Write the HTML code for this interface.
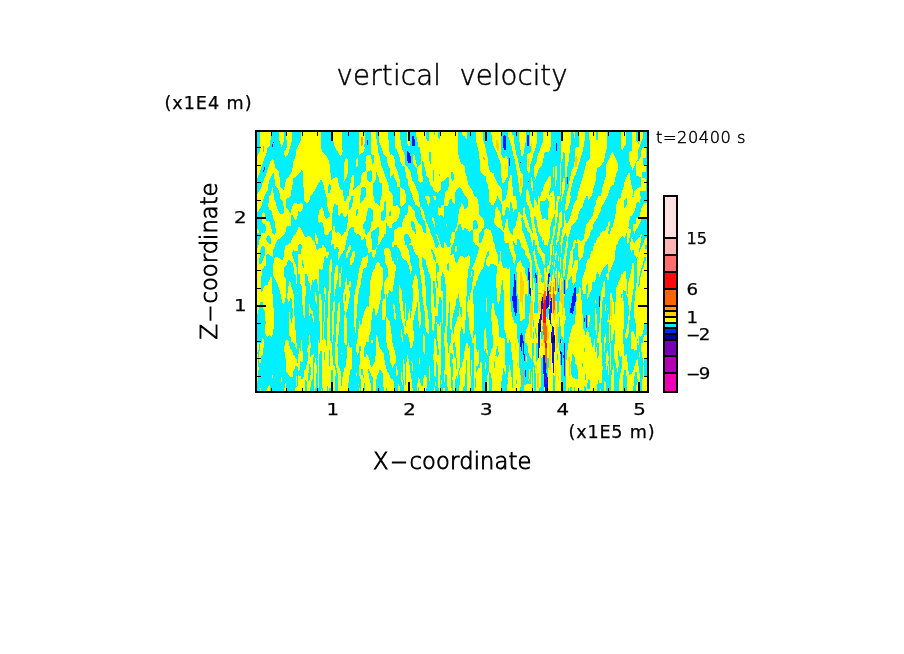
<!DOCTYPE html>
<html lang="en"><head><meta charset="utf-8"><title>vertical velocity</title>
<style>
html,body{margin:0;padding:0;background:#fff;}
body{width:904px;height:654px;overflow:hidden;}
svg{display:block;}
text{font-family:"DejaVu Sans","Liberation Sans",sans-serif;fill:#000;}
.thin{font-weight:200;stroke:#000;stroke-width:0.5px;}
.med{font-weight:200;stroke:#000;stroke-width:0.9px;}
.lab{font-family:"DejaVu Sans","Liberation Sans",sans-serif;stroke:#000;stroke-width:0.25px;}
</style></head><body>
<svg width="904" height="654" viewBox="0 0 904 654">
<rect x="0" y="0" width="904" height="654" fill="#fff"/>
<defs>
<clipPath id="c0"><rect x="255" y="130" width="98" height="66"/></clipPath>
<clipPath id="c1"><rect x="353" y="130" width="67" height="17"/></clipPath>
<clipPath id="c2"><rect x="353" y="147" width="67" height="49"/></clipPath>
<clipPath id="c3"><rect x="420" y="130" width="31" height="66"/></clipPath>
<clipPath id="c4"><rect x="451" y="130" width="98" height="66"/></clipPath>
<clipPath id="c5"><rect x="549" y="130" width="98" height="66"/></clipPath>
<clipPath id="c6"><rect x="257" y="196" width="65" height="49"/></clipPath>
<clipPath id="c7"><rect x="322" y="196" width="65" height="49"/></clipPath>
<clipPath id="c8"><rect x="387" y="196" width="65" height="49"/></clipPath>
<clipPath id="c9"><rect x="452" y="196" width="65" height="49"/></clipPath>
<clipPath id="c10"><rect x="517" y="196" width="65" height="49"/></clipPath>
<clipPath id="c11"><rect x="582" y="196" width="65" height="49"/></clipPath>
<clipPath id="c12"><rect x="257" y="245" width="65" height="49"/></clipPath>
<clipPath id="c13"><rect x="322" y="245" width="65" height="49"/></clipPath>
<clipPath id="c14"><rect x="387" y="245" width="65" height="49"/></clipPath>
<clipPath id="c15"><rect x="452" y="245" width="65" height="49"/></clipPath>
<clipPath id="c16"><rect x="517" y="245" width="65" height="49"/></clipPath>
<clipPath id="c17"><rect x="537" y="262" width="45" height="32"/></clipPath>
<clipPath id="c18"><rect x="582" y="245" width="65" height="49"/></clipPath>
<clipPath id="c19"><rect x="257" y="294" width="65" height="49"/></clipPath>
<clipPath id="c20"><rect x="322" y="294" width="65" height="49"/></clipPath>
<clipPath id="c21"><rect x="387" y="294" width="65" height="49"/></clipPath>
<clipPath id="c22"><rect x="452" y="294" width="65" height="49"/></clipPath>
<clipPath id="c23"><rect x="517" y="294" width="65" height="49"/></clipPath>
<clipPath id="c24"><rect x="582" y="294" width="65" height="49"/></clipPath>
<clipPath id="c25"><rect x="257" y="343" width="65" height="49"/></clipPath>
<clipPath id="c26"><rect x="322" y="343" width="65" height="49"/></clipPath>
<clipPath id="c27"><rect x="387" y="343" width="65" height="49"/></clipPath>
<clipPath id="c28"><rect x="452" y="343" width="65" height="49"/></clipPath>
<clipPath id="c29"><rect x="517" y="343" width="65" height="49"/></clipPath>
<clipPath id="c30"><rect x="582" y="343" width="65" height="49"/></clipPath>
</defs>
<rect x="256" y="131" width="392" height="261" fill="#00f0ff"/>
<g shape-rendering="crispEdges" clip-path="url(#c0)">
<rect x="255" y="130" width="98" height="66" fill="#ffff00"/>
<polygon fill="#00f0ff" points="257,132 260,132 260,151.1 258.8,153.3 257.7,155.5 257,156.6"/>
<polygon fill="#00f0ff" points="271,132 279.1,132 279.1,140.3 280.5,144.1 281.6,147.1 283,143.6 284.1,139.8 284.1,132 286.4,132 286.4,139.8 287,143 287,147.9 284.1,151.1 284.1,154.4 285.7,156.9 288.1,153.8 289.5,149.5 290.8,144.6 292.1,139.8 292.1,132 301.1,132 301.1,139.8 298.9,144.6 296.4,149.5 296,154.4 294.6,159.3 292.9,162 292.9,165.8 291.5,172.3 287.8,178.2 285.9,180.1 285.4,183.1 284.3,188.5 283.7,189.8 279.9,186.4 279.3,172.3 274.8,167.1 274.3,162 272.9,158.2 270.1,162 267.1,171.6 265.1,176.6 262.6,183.1 261.1,188.2 257,194.3 257,179.1 258,176.6 260.1,171.6 261.1,168.5 263,162 265,156.9 266.5,153.4 267.5,148.4 270,145 270,140.4 270.9,139.4"/>
<polygon fill="#00f0ff" points="273.2,173.1 274.2,173.6 274.9,185.7 279.2,190.3 279.7,194.7 279.9,196 273.9,196 272.7,186.7 270.1,196 264.5,196 265.1,194.7 267.7,190.3 268.7,183.2 270.2,178.1"/>
<polygon fill="#00f0ff" points="320.9,132 333.3,132 333.3,140.8 334.7,146.8 337.9,151.7 339.6,154.9 340.6,156.6 341.7,154.9 342.6,151.7 342.1,143 342.1,132 353,132 353,174.4 350.9,177.7 350.4,184.2 349.3,190.7 349.1,196 343.4,196 342.8,190.2 340.6,189.1 339,186.4 337.9,178.2 335.8,176.8 331.4,179.7 330.9,176.6 329.8,165.8 328.7,160.4 326.5,155.5 322.2,152.2 320.9,146.3"/>
<polygon fill="#ffff00" points="346.6,158 348,159.3 348.2,171.2 347.1,175.5 345.5,178.8 343.9,181.8 343.4,182 343.9,178.8 344.4,173.4 343.9,167.9 344.4,162.5 345.5,159.3"/>
<polygon fill="#00f0ff" points="329.3,183.7 330.9,185.3 330.9,188.5 329.8,192.9 328.2,192.9 328.2,187.5"/>
<polygon fill="#00f0ff" points="301.6,170.1 302.7,171.2 302.7,182 303.8,188.5 304.3,196 290.8,196 291.3,190.7 292.4,186.4 292.9,178.8 295.1,177.2 298.4,174.4"/>
<polygon fill="#00f0ff" points="320.6,180.1 321.7,180.4 323.3,184.2 324.4,189.6 325.5,194 326,196 310.8,196 312.5,194 315.7,189.1 317.9,184.2"/>
<polygon fill="#0014ff" points="272.7,142.1 273.6,142.1 273.6,143.1 272.7,143.1"/>
<polygon fill="#0014ff" points="271.8,144.1 272.9,144.1 272.9,146.8 271.8,146.8"/>
<polygon fill="#0014ff" points="263.9,167.2 265,167.2 265,169.6 263.9,169.6"/>
<polygon fill="#0014ff" points="263,169.6 264.1,169.6 264.1,171.7 263,171.7"/>
<polygon fill="#ffa000" points="263,146.3 263.7,146.3 263.7,151.7 263,151.7"/>
</g>
<g shape-rendering="crispEdges" clip-path="url(#c1)">
<rect x="353" y="130" width="67" height="17" fill="#00f0ff"/>
<polygon fill="#ffff00" points="359,132 364.4,132 364.9,136.5 364.4,147 359,147"/>
<polygon fill="#ffa000" points="361.1,137 362.8,137.6 362.8,144.1 361.7,146.3 361.1,146.3"/>
<polygon fill="#0014ff" points="366.9,139.8 368.2,139.8 368.2,144.6 366.9,144.6"/>
<polygon fill="#ffff00" points="370.9,132 376.3,132 376.3,137.6 377.4,143 377.7,147 371,147"/>
<polygon fill="#ffff00" points="379,132 387.7,132 387.9,136.5 388.8,141.9 389,147 381.1,147 380.1,144.1 379,141.9"/>
<polygon fill="#ffff00" points="394.7,132 399.6,132 400.2,138.7 401.2,144.1 401.7,147 395,147 394.7,140.8"/>
<polygon fill="#ffff00" points="407.2,132 410.1,132 410.1,145.7 408.8,146.3 407.2,143"/>
<polygon fill="#0014ff" points="411.5,136 413.7,136.5 415,140.8 415,145.7 412.1,145.7 411.5,140.8"/>
<polygon fill="#ffff00" points="415.9,132 420,132 420,147 418.6,147 418,144.1 417,140.8"/>
</g>
<g shape-rendering="crispEdges" clip-path="url(#c2)">
<rect x="353" y="147" width="67" height="49" fill="#00f0ff"/>
<polygon fill="#ffff00" points="371,147 377.7,147 378.1,152.2 379.6,156 381.1,165 383,169.5 384.1,173.2 385.6,177 387.5,181.5 389,186 389,190.5 391.2,192.7 393.1,196 381.9,196 381.9,183.7 378.9,182.2 378.5,177 377,174 376.6,172.1 375.9,172.5 375.5,180 373.2,183.7 373.2,196 366.1,196 365.7,189 365,187.1 362,187.1 360.9,188.6 360.9,195 360.1,196 353,196 353,190.5 354.5,189 356,187.5 360.1,184.1 360.9,181.5 361.2,175.9 362.4,172.9 365,171.7 366.1,171 366.1,163.1 365,162.7 365,162 366.1,161.6 366.1,156 366.9,155.2 369.1,154.9 370.2,155.6 371,154.9 371.4,158.2 372.1,165 373.6,163.1 373.6,155.2 371,154.1"/>
<polygon fill="#00f0ff" points="369.1,171 370.6,170.2 371.7,171.7 371.7,180.7 370.6,181.8 369.1,181.8 367.2,179.2 367.2,172.5"/>
<polygon fill="#ffff00" points="359,147 365,147 364.2,150.7 362.7,152.6 360.1,154.5 359,154.9"/>
<polygon fill="#ffff00" points="356.7,158.2 357.9,158.2 357.9,165.7 356.7,166.9 356,166.9 356,161.2"/>
<polygon fill="#ffff00" points="353,175.1 353.9,175.1 353.9,186.7 353,187.1"/>
<polygon fill="#ffff00" points="381.1,147 389,147 389.3,151.5 390.5,154.5 392,154.1 393.5,156 394.6,159.7 395.3,166.5 396.8,169.5 398,171.7 398.3,174.7 399.8,180 399.8,187.1 397.2,186.7 396.5,182.2 394.2,177 393.8,174.4 392,174.7 391.2,177.7 390.1,177.7 389.7,168.7 387.5,163.1 387.1,157.5 386,156.4 383,153"/>
<polygon fill="#ffff00" points="399.8,187.1 401.7,187.8 404.7,190.5 405.5,193.5 406.2,196 400.2,196 399.8,192"/>
<polygon fill="#ffff00" points="395,147 401.7,147 402.5,150 404.7,155.2 405.5,165 409.2,169.5 410.7,172.5 412.2,180 415.2,185.2 416.7,189 418.2,193.5 419,196 413,196 412.2,194.2 410.3,190.5 408.1,184.5 407.7,179.2 406.2,177.7 405.5,171.7 404.7,167.2 402.5,165.7 400.2,161.2 399.5,156.7 398,153 396.5,149.2"/>
<polygon fill="#ffff00" points="413,154.1 414.1,154.1 415.2,156.7 415.6,161.2 417.1,165.7 417.5,166.9 420,165 420,183 418.2,180.7 417.1,169.5 416.7,168 414.8,165.7 413,163.5"/>
<polygon fill="#0014ff" points="407,151.1 408.5,151.5 410,154.5 411.1,158.2 411.1,163.1 408.5,163.1 407,160.5"/>
</g>
<g shape-rendering="crispEdges" clip-path="url(#c3)">
<rect x="420" y="130" width="31" height="66" fill="#ffff00"/>
<polygon fill="#00f0ff" points="425.6,132 428.9,132 428.9,141.4 427.3,141.4 425.8,136.5"/>
<polygon fill="#00f0ff" points="433.8,132 434.8,132 434.8,135.4 433.8,135.4"/>
<polygon fill="#00f0ff" points="438.1,132 440.3,132 440.3,138.7 438.6,138.7"/>
<polygon fill="#00f0ff" points="429.2,152.2 430.8,152.2 431.1,163.6 429.8,163.6 429.2,158.2"/>
<polygon fill="#00f0ff" points="433,170.1 434.3,170.1 434.3,181 433.4,181"/>
<polygon fill="#00f0ff" points="438.6,173.9 439.9,173.9 439.9,176.1 438.6,176.1"/>
<polygon fill="#00f0ff" points="420,147 420.8,157.1 421.3,161.4 420,165"/>
<polygon fill="#00f0ff" points="422.4,161.4 423.5,162.5 425.6,171.2 426.7,176.6 428.9,178.8 430,184.2 432.7,187.5 433.8,190.7 437,192.3 438.6,196 420,196 420,183 422.4,182 423.5,179.9 421.8,173.4 421.8,162"/>
<polygon fill="#00f0ff" points="447.9,176.1 448.9,177.7 448.9,186.4 447.3,190.7 445.1,192.3 444.6,196 437.6,196 438.1,191.8 440.8,190.2 441.4,182 445.1,179.9"/>
</g>
<g shape-rendering="crispEdges" clip-path="url(#c4)">
<rect x="451" y="130" width="98" height="66" fill="#00f0ff"/>
<polygon fill="#ffff00" points="451,132 458,132 458,151.7 459.1,158.2 461.3,163.6 464.6,165.8 465.6,173.4 467.3,177.7 467.8,184.2 471.1,188.5 473.2,191.8 473.8,196 451,196"/>
<polygon fill="#00f0ff" points="451,172.3 452.6,172.3 453.7,174.4 453.7,179.9 452.6,181 451,178.8"/>
<polygon fill="#00f0ff" points="459.7,186.9 461.8,189.1 465.1,196 454.8,196 455.3,191.8 458,188.5"/>
<polygon fill="#ffff00" points="461.8,132 467.3,132 467.3,138.7 465.6,138.7 464.6,136.5 462.4,134.9"/>
<polygon fill="#ffff00" points="475.9,132 483,132 483.5,140.8 485.1,145.2 486.2,151.7 487.9,158.2 488.4,165.8 490,172.3 493.8,172.8 494.4,176.6 496.5,181 498.7,185.8 501.4,186.9 502,196 488.9,196 488.4,186.4 486.2,181 485.7,176.6 482.4,173.9 480.3,171.2 479.7,160.4 478.6,151.7 476.5,143"/>
<polygon fill="#ffa000" points="483,157.1 484.1,157.1 485.1,159.3 485.1,160.6 484.1,160.4"/>
<polygon fill="#ffff00" points="491.1,132 501.4,132 501.4,136.5 500.9,140.8 500.9,151.7 502,157.1 504.1,158.2 506.3,155.5 507.4,156.6 507.9,165.8 507.9,176.6 505.2,179.9 504.1,183.7 502.5,183.1 501.4,177.7 501.4,165.8 498.7,158.2 496.5,151.7 493.8,147.3 492.2,140.8"/>
<polygon fill="#ffd200" points="496,140.3 498.2,140.3 498.7,144.1 498.7,150.6 497.1,150.6 496,145.2"/>
<polygon fill="#ffd200" points="504.9,164.1 505.7,164.1 505.7,169 504.9,169"/>
<polygon fill="#0014ff" points="503,136 504.7,134.9 506.1,136.5 506.3,149.5 504.7,150.6 503,147.3"/>
<polygon fill="#0014ff" points="509,158.2 510.1,158.2 510.1,165.8 509,165.8"/>
<polygon fill="#ffff00" points="507.9,132 512.2,132 512.2,135.4 513.9,135.4 513.9,140.8 515,146.3 516,153.8 518.2,159.3 518.8,165.8 520.4,171.2 522.5,174.4 523.1,181 522.5,187.5 521.5,192.9 520.9,196 520.4,196 519.8,194 518.8,188.5 518.2,177.7 517.1,173.4 516,167.9 515,160.4 513.3,154.9 511.7,146.3 510.1,141.9 508.5,136.5"/>
<polygon fill="#ffd200" points="519.8,177.7 521.5,177.7 522,182 521.5,186.4 520.2,186.4"/>
<polygon fill="#ffff00" points="518.8,132 525.8,132 525.8,140.8 524.7,147.3 523.6,153.8 522.5,156 521.5,155.5 520.4,149.5 519.3,140.8"/>
<polygon fill="#ffff00" points="530.1,132 536.6,132 536.6,144.1 535,149.5 532.8,154.9 532.3,160.4 530.7,160.9 530.1,171.2 529.1,172.8 528.5,172.8 527.4,171.2 527.4,154.4 530.7,151.7"/>
<polygon fill="#ffd200" points="531,143 531.8,143 531.8,152.8 531,152.8"/>
<polygon fill="#ffd200" points="528,158.7 528.8,158.7 528.8,166.9 528,166.9"/>
<polygon fill="#0014ff" points="526.9,135.4 528.5,135.4 529.1,138.7 529.1,145.2 527.4,146.3 526.9,143"/>
<polygon fill="#ffff00" points="543.1,132 549,132 549,151.7 545.9,151.7 544.2,152.8 543.1,161.4 541,166.9 538.8,169 537.2,173.4 535.6,178.8 533.9,175.5 534.5,165.8 536.6,161.4 537.7,154.9 539.9,150.6 541,146.3 543.1,141.9"/>
<polygon fill="#ffff00" points="549,176.6 546.4,181 544.2,184.2 542.6,190.7 541,192.9 541,196 549,196"/>
<polygon fill="#ffff00" points="510.6,175 511.7,175.5 512.2,182 512.8,190.7 513.3,196 506.3,196 507.4,190.7 508.5,181 510.1,175.5"/>
<polygon fill="#ffff00" points="527.4,189.1 529.1,191.8 529.6,196 525.8,196 526.3,190.7"/>
<polygon fill="#ffff00" points="531,177.2 532.1,177.2 532.8,184.2 532.8,190.7 531.8,190.7 531.2,184.2"/>
<polygon fill="#0014ff" points="519.8,161.8 520.9,161.8 520.9,162.8 519.8,162.8"/>
<polygon fill="#0014ff" points="527.8,180.7 528.8,180.7 528.8,181.8 527.8,181.8"/>
</g>
<g shape-rendering="crispEdges" clip-path="url(#c5)">
<rect x="549" y="130" width="98" height="66" fill="#00f0ff"/>
<polygon fill="#ffff00" points="549,132 551.2,132 551.2,146.3 550.1,147.3 550.1,150.6 549,150.6"/>
<polygon fill="#ffff00" points="563.1,132 571.2,132 571.2,140.8 569.6,151.7 568.5,162.5 567.4,166.9 566.9,176.6 565.3,176.6 564.7,171.2 565.3,162.5 564.7,152.8 563.1,152.2 562.6,158.2 561.5,162.5 560.6,165.8 560.6,195 559.6,195 559.6,165.8 560.9,161.4 560.9,140.8"/>
<polygon fill="#ffff00" points="573.4,132 575,132 575,137.6 573.9,137.6"/>
<polygon fill="#ffff00" points="579.4,132 584.8,132 584.8,138.7 583.7,146.3 582.6,151.7 580.4,158.2 579.4,162.5 577.7,167.9 576.1,173.4 573.9,177.7 572.3,184.2 570.7,190.7 570.1,196 566.9,196 567.4,191.8 569.1,186.4 569.6,179.9 570.7,175.5 571.8,170.1 573.4,167.9 574.5,162.5 575,154.9 575.6,147.3 579.4,146.3"/>
<polygon fill="#ffd200" points="575.6,156 577.4,156 577.7,161.4 576.6,166.9 575,166.9 575,161.4"/>
<polygon fill="#ffff00" points="589.1,132 595.6,132 595.8,139.8 597.6,139.8 597.8,132 607,132 607,146.3 605.4,153.8 603.7,161.4 601,165.8 596.7,168.5 596.2,176.6 595.1,183.1 593.4,188.5 592.4,194 591.8,196 577.7,196 578.3,191.8 579.9,186.4 581.5,181 583.1,175.5 584.8,169 586.4,162.5 590.2,158.2 589.7,143"/>
<polygon fill="#ffff00" points="612.4,152.2 614,154.4 616.2,159.3 617.8,163.6 617.8,170.1 616.2,173.4 615.1,179.9 614,184.2 610.8,186.4 609.2,190.7 607.5,196 601,196 602.1,188.5 604.3,181 605.9,175.5 606.5,163.6 609.2,159.3 610.8,153.8"/>
<polygon fill="#ffff00" points="621.1,132 626,132 626,144.1 623.8,147.3 622.2,150.1 621.1,148.4"/>
<polygon fill="#ffff00" points="631.9,132 636.3,132 636.3,140.8 637.9,143 638.4,144.1 640.1,140.8 640.1,132 643.3,132 643.3,136.5 641.7,140.8 640.1,145.2 638.4,149.5 637.9,159.3 635.7,162.5 634.1,166.9 632.5,169.6 630.8,165.8 629.2,161.4 629.2,151.7 631.9,150.6"/>
<polygon fill="#ffff00" points="642.2,148.4 646,148.4 646,158.2 643.3,158.2 643.3,164.7 646,164.7 646,171.7 642.2,172.3 642.2,177.7 646,178.8 646,190.7 640.1,190.7 640.1,196 633.6,196 634.1,191.8 636.8,188.5 641.1,186.4 641.1,177.7 637.9,175.5 635.7,176.6 635.7,162.5 639,160.4 640.6,157.1 641.1,151.7"/>
<polygon fill="#ffff00" points="628.7,172.3 629.8,173.4 630.3,178.8 631.9,186.4 633,190.7 633.6,196 621.1,196 621.6,191.8 623.8,186.4 624.9,179.9 627.1,175.5"/>
<polygon fill="#ffff00" points="549,176.1 551.2,176.1 551.2,186.4 549.5,190.7 549,190.7"/>
<polygon fill="#ffff00" points="552.8,166.9 554.4,166.9 554.4,173.4 553.6,177.7 552.8,173.4"/>
<polygon fill="#ffff00" points="555.5,165.8 557.1,165.8 557.1,173.4 556.4,181 555.5,186.4 555,181"/>
<polygon fill="#ffff00" points="551.2,191.8 554.4,190.2 553.9,196 549,196"/>
<polygon fill="#ffff00" points="563.1,177.7 565.3,177.7 565.3,186.4 564.2,191.8 562.6,196 561.5,196 562,186.4"/>
<polygon fill="#0014ff" points="555.8,143 556.9,143 556.9,150.6 555.8,150.6"/>
<polygon fill="#0014ff" points="566.9,177.2 568,177.2 568,183.7 566.9,183.7"/>
</g>
<g shape-rendering="crispEdges" clip-path="url(#c6)">
<rect x="257" y="196" width="65" height="49" fill="#00f0ff"/>
<polygon fill="#ffff00" points="257,196 264.1,196 263.7,198.2 262.2,202.7 261.9,205.7 260,208.4 258.5,210.6 257,212.1"/>
<polygon fill="#ffff00" points="269,196 274.2,196 274.2,199 275.4,201.2 276.1,205 277.2,208.7 279.1,211.7 280.2,214 282.8,214 284,212.1 284,208 282.8,204.2 282.8,201.2 281.7,200.5 280.2,198.6 279.9,196 290,196 289.2,197.5 287,198.6 285.8,199.4 285.8,207.6 287,208.7 288.5,210.2 290,212.5 291.1,212.9 291.1,210.2 292.2,207.2 293,203.9 294.1,203.1 296.7,203.1 298.2,204.6 300.1,203.1 302,203.1 303.1,204.6 303.1,208 302,210.6 300.5,212.1 298.2,211 297.8,214 297.1,218.5 295.6,220 293.7,218.1 293,215.1 291.1,215.1 291.1,225.6 287.7,226 285.8,227.1 285.8,230.8 284.7,233.5 281.7,236.5 279.5,238.7 277.2,240.2 276.5,242.5 275,245 259.2,245 259.2,241 260.7,238 261.1,233.5 264.5,233.1 266,229.7 266,227.5 264.9,224.5 262.6,223.7 261.9,221.8 261.9,214 263.4,212.1 264.9,213.6 265.2,217 266,220.7 268.6,221.1 270.1,223 271.2,227.5 272.4,232.7 274.6,235 275.7,232.7 275.7,229 275,226 274.6,221.5 273.5,219.2 272.4,214.7 272,212.1 270.9,210.2 269,209.5 268.2,205.7 268.2,203.1 269,202"/>
<polygon fill="#00f0ff" points="268.2,235 269.7,236.1 270.9,239.5 270.9,244 269.4,244 267.1,241 266,239.5 266.7,236.8"/>
<polygon fill="#ffff00" points="304.2,196 310.2,196 309.8,199 308.7,201.6 307.9,202.7 305.7,202.7 304.2,201.2"/>
<polygon fill="#ffff00" points="298.2,227.5 299.7,227.1 301.2,229.7 303.1,232.7 304.2,235 305.7,237.6 307.9,236.1 310.2,236.5 311.7,238.7 313.9,241 315.1,243.2 315.4,245 288.1,245 288.5,244 290.7,242.5 292.2,238.7 293,236.5 294.8,235 296.3,232.7 297.5,229.7"/>
<polygon fill="#00f0ff" points="299.3,244 300.8,244 300.8,245 299.3,245"/>
<polygon fill="#ffff00" points="322,206.9 320.7,208.4 319.2,211 318.8,214.7 318.1,216.2 318.1,221.5 319.6,223 322,221.5"/>
<polygon fill="#ffff00" points="315.4,233.1 316.2,234.2 317.3,237.2 318.1,241 317.7,244 316.6,244 315.4,241 315.1,236.5"/>
<polygon fill="#ffff00" points="257,229 258.1,229.3 258.9,230.8 258.5,232.7 257,233.1"/>
</g>
<g shape-rendering="crispEdges" clip-path="url(#c7)">
<rect x="322" y="196" width="65" height="49" fill="#ffff00"/>
<polygon fill="#00f0ff" points="322,196 326.1,196 326.9,198.2 327.2,207.2 328,208 328.4,211 329.1,211.7 329.9,214 329.9,216.6 328,217.4 326.5,218.9 325,217.4 324.2,214.7 323.5,211 322.7,208 322,208"/>
<polygon fill="#00f0ff" points="344.1,196 346.7,196 346.7,199 345.6,200.9 344.1,200.9"/>
<polygon fill="#00f0ff" points="351.2,196 353.8,196 353.1,197.5 352.7,202 352,205.7 350.8,208.7 349.7,209.9 349,208.7 349,202.7 350.1,201.2 350.8,199"/>
<polygon fill="#00f0ff" points="360.2,196 366.2,196 364.7,198.2 362.5,200.9 360.2,203.1"/>
<polygon fill="#00f0ff" points="374.1,196 381.2,196 380.8,199 380.1,200.5 380.1,205.7 378.9,205.7 377.4,203.9 375.2,202.4 374.1,200.5"/>
<polygon fill="#00f0ff" points="384.9,200.9 386.1,200.9 386.1,211 385.3,218.5 384.9,220 383.4,221.1 381.6,220 381.2,218.5 381.2,212.1 382.7,211 384.2,209.9 384.2,202.7"/>
<polygon fill="#00f0ff" points="334.4,203.9 335.9,204.2 338.1,205.4 338.1,214.4 339.6,215.9 341.1,212.9 343,213.2 343.4,215.9 344.9,217 346.4,216.2 347.1,214 347.8,214 347.8,223 347.1,223.7 346.7,227.8 346,231.2 344.1,232.7 342.6,235 341.5,236.1 340,233.5 338.5,232 336.6,232.7 335.1,231.2 334.7,226.3 333.2,226 332.9,229.7 331.7,230.1 331.7,214 332.9,213.2 333.2,207.2 334,206.5"/>
<polygon fill="#00f0ff" points="356.8,209.1 358,209.1 358,214 357.2,214.4 356.8,215.9 356.1,215.9 356.1,212.1"/>
<polygon fill="#00f0ff" points="368.5,208 370.7,208 372.9,210.2 372.9,220 372.2,221.1 371.1,223 370.7,227.5 370,228.6 369.6,230.8 367.7,233.1 366.2,235 365.1,233.5 364.7,229.3 363.2,229 363.2,224.8 364,222.2 365.5,221.1 366.2,217 367,215.5 367.3,211.7 368.1,210.6"/>
<polygon fill="#00f0ff" points="322,223 323.1,223.3 323.1,226 324.2,227.5 324.2,233.8 325.4,235 327.6,235 329.1,232.7 330.6,230.8 331.7,230.1 331.7,239.8 331,240.6 331,245 322,245"/>
<polygon fill="#00f0ff" points="352,227.1 353.8,227.5 354.2,231.2 355.3,233.1 356.5,234.6 358,233.8 359.5,235 361,236.8 361.3,239.5 362.8,239.8 364.7,236.8 365.1,239.1 366.2,240.2 366.2,245 346,245 346,241 347.1,239.5 347.5,235.7 348.2,232.7 349,229 350.5,227.5"/>
<polygon fill="#00f0ff" points="377.8,227.1 378.9,227.5 378.9,235.7 378.2,236.5 377.8,244 377.1,245 372.2,245 371.8,239.5 371.1,238.7 371.1,232 373.3,230.5 375.2,229.3 376.7,228.2"/>
<polygon fill="#00f0ff" points="386.1,223 387,223 387,245 379.3,245 379.7,243.2 381.2,241.7 381.9,239.1 383.4,236.8 384.6,234.2 385.7,233.5 385.7,226"/>
<polygon fill="#00f0ff" points="332.1,244 334,244 334,245 332.1,245"/>
</g>
<g shape-rendering="crispEdges" clip-path="url(#c8)">
<rect x="387" y="196" width="65" height="49" fill="#00f0ff"/>
<polygon fill="#ffff00" points="387,196 393,196 393,205.7 396,205.7 396.7,205 398.2,205.4 398.6,207.2 400.1,209.1 400.1,214 399,214.4 399,217 397.9,218.5 397.1,220.4 394.9,222.2 393,223.3 392.2,224.8 391.9,227.5 389.6,227.8 388.1,226 387,226"/>
<polygon fill="#00f0ff" points="390,211 391.1,211.4 391.1,215.9 389.2,215.9 388.9,213.2"/>
<polygon fill="#ffff00" points="400.1,196 406.1,196 406.1,202.7 405,203.5 403.9,205.4 402.4,205.7 401.2,206.9 400.1,205.7"/>
<polygon fill="#ffff00" points="412.1,196 419.2,196 419.2,202 420,202.7 420,206.9 418.5,206.9 417,205.4 415.1,204.6 414.7,202.7 413.6,200.5 412.8,197.5"/>
<polygon fill="#ffff00" points="425.2,196 429,196 430.1,198.2 430.1,202.7 429,203.5 428.6,205.7 427.8,205.7 427.5,203.5 426.7,200.5 425.6,198.2"/>
<polygon fill="#ffff00" points="433.1,196 436.1,196 436.1,199.7 434.2,199.7 433.8,197.9"/>
<polygon fill="#ffff00" points="445.1,196 452,196 452,199 449.6,199.4 449.2,203.5 448.1,204.2 448.1,205.7 444.3,206.1 443.9,216.6 442.8,216.6 442.1,215.9 440.9,215.1 439.8,215.9 438.7,214.7 437.9,214.4 437.9,207.2 439.1,206.9 439.4,208 440.6,208 440.9,205.7 442.4,205 443.9,204.6 444.3,199.4"/>
<polygon fill="#ffff00" points="408.4,205.4 409.5,205 411,206.5 412.1,208.7 413.2,209.9 414.7,211.4 415.1,215.9 415.8,218.5 417,219.2 417.3,221.1 418.5,223 420.3,224.8 421.5,226 422.2,228.2 423,229.7 423.3,232 424.5,232.7 426,232.7 426,225.2 425.2,224.5 424.8,221.5 423,219.2 422.2,217 421.1,214.4 420.7,210.2 420,209.1 420,207.6 421.5,206.9 422.2,208 423.3,209.9 424.1,213.2 425.2,217.7 426,221.5 427.5,223.7 428.2,226.7 429.3,228.2 430.1,232 431.2,234.2 432,236.5 433.1,238.7 433.8,241.7 435,243.2 435,245 408.7,245 409.5,244 411,243.2 411,239.5 409.9,238.7 409.5,236.5 408,234.2 405,234.2 403.9,235.7 403.9,240.2 405,241 405.4,245 392.2,245 392.2,242.5 393.7,241 394.1,230.8 395.2,229.3 396.7,229 397.9,227.1 402,226.7 402,222.2 403.1,221.5 403.5,218.9 405,217.7 405.4,215.1 406.9,214.7 407.2,213.2 408,212.5"/>
<polygon fill="#00f0ff" points="411.4,221.1 412.8,221.5 414,223 414.7,224.5 415.1,229 416.2,229.7 415.8,233.5 415.1,233.8 414.3,231.6 412.1,229.7 411.4,226"/>
<polygon fill="#ffff00" points="432,217 433.1,217.4 434.2,220 435,222.2 435,226.7 434.2,226.7 433.5,223.7 432.3,220.7"/>
<polygon fill="#ffff00" points="446,224.1 447.1,224.1 447.1,226 446,226"/>
<polygon fill="#ffff00" points="436.1,233.8 437.2,234.2 438.3,236.5 438.7,239.5 439.8,241 440.2,244 440.9,245 439.4,245 438.7,242.5 437.6,239.5 436.8,236.5 436.1,235"/>
<polygon fill="#ffff00" points="443.9,242.1 445.1,242.5 446.2,244 446.2,245 443.9,245"/>
<polygon fill="#ffff00" points="451.1,233.8 452,233.8 452,245 450.7,245 450.3,241 450.7,238"/>
</g>
<g shape-rendering="crispEdges" clip-path="url(#c9)">
<rect x="452" y="196" width="65" height="49" fill="#00f0ff"/>
<polygon fill="#ffff00" points="452,196 455,196 455,203.5 453.9,203.9 452.7,202 452,200.9"/>
<polygon fill="#ffff00" points="465.9,196 474.9,196 476.7,197.5 477.8,199.4 478.2,203.9 479,204.6 479,214.7 480.5,215.9 482,217.4 483.1,218.5 483.8,220.4 483.8,227.8 482.7,228.6 481.6,230.8 479.7,232.7 479,233.5 479,242.8 480.8,242.8 482,241 482.7,238.7 483.1,236.5 483.8,235 484.2,231.2 485,229 486.5,227.8 488,229 489.5,230.1 491,230.5 491.3,232.7 492.5,235.7 493.2,238.7 493.2,241.7 494.7,244 495.1,245 474.9,245 474.5,243.2 473.4,241.7 473,230.1 471.1,230.1 469.6,232 468.1,230.5 467,228.6 464.4,228.2 463.6,229.7 462.1,229.7 461.7,227.1 461,226.7 460.6,224.1 459.1,224.1 458,225.6 457.6,228.2 457.2,230.8 455.7,231.6 455,233.1 455,236.5 454.2,241 453.1,244 452.7,245 452,245 452,232 454.6,231.6 455.7,229 456.9,226 457.2,223.7 458,223 458,214.4 459.1,213.6 459.1,209.9 460.2,208.7 460.2,206.9 461,206.5 461,203.1 462.1,203.5 462.9,204.6 464,207.2 464.4,208.7 465.9,208.7 467.7,207.2 468.1,199.4 467,197.9"/>
<polygon fill="#00f0ff" points="473.4,220.7 474.5,220 476,220.4 477.1,221.8 477.1,224.1 478.2,224.5 478.2,227.5 476.7,228.6 474.5,229 473.4,229.7 473,222.2"/>
<polygon fill="#ffff00" points="489.1,196 497,196 497,198.2 495.8,200.9 494.7,202.7 494,204.6 491.3,205 490.6,203.1 489.5,201.6 489.1,199.7"/>
<polygon fill="#ffff00" points="498.1,196 517,196 517,209.1 514.9,209.1 514.2,211 513.8,212.1 513.1,211.4 512.7,208 511.9,207.2 511.6,203.5 510.4,202 510.1,204.2 510.4,210.2 509.3,210.6 508.9,208.4 507.8,206.9 506.3,207.2 505.6,209.9 504.8,214 503.7,216.2 502.9,215.5 502.2,214.4 501.8,204.2 501.1,203.5 500.7,201.6 498.8,199"/>
<polygon fill="#00f0ff" points="502.2,196 505.9,196 505.6,199 503.7,200.9 502.6,200.9 502,199.7"/>
<polygon fill="#00f0ff" points="515.7,196 517,196 517,200.1 515.7,199.4"/>
<polygon fill="#ffff00" points="496.6,206.9 497.7,207.2 498.5,209.5 500,212.1 501.1,213.2 501.1,219.6 502.2,220.7 502.2,225.6 503.3,227.5 503.3,229.7 504.4,229 504.8,225.2 505.2,223 505.9,222.2 505.9,219.2 507.8,219.2 508.2,220.7 508.2,227.5 508.9,229 510.1,232 511.6,234.2 512.7,235.7 513.1,229 513.8,228.2 514.9,228.2 514.9,226 516.1,225.2 516.1,221.1 517,221.1 517,245 514.9,245 514.6,243.2 514.2,241 513.4,241 513.1,242.8 513.4,245 509.3,245 508.9,242.8 507.8,242.5 506.7,243.2 505.2,242.5 504.4,241 504.1,233.5 503.3,232 501.8,230.8 500.7,229 499.2,227.5 497.7,227.5 496.2,226 495.1,224.1 494.3,223.3 494.3,218.1 495.1,217.4 495.1,209.9 496.2,208.7"/>
</g>
<g shape-rendering="crispEdges" clip-path="url(#c10)">
<rect x="517" y="196" width="65" height="49" fill="#ffff00"/>
<polygon fill="#00f0ff" points="517,196 526,196 526,201.6 527.1,202.7 527.5,205 528.6,206.1 529.4,208.7 530.1,209.9 530.1,216.2 530.9,217.4 530.9,222.2 532,224.5 532.4,228.2 532.7,232.7 532,232.7 531.2,229.7 530.1,228.2 529,226 528.6,223.3 527.9,220.7 527.1,218.5 526,216.2 525.2,212.5 524.9,207.2 524.1,207.2 523,208.7 523,217 521.9,215.5 521.1,214.4 520,213.2 519.6,212.1 518.1,212.1 517.7,214 517.7,217 517,217"/>
<polygon fill="#00f0ff" points="521.9,217 523,217.7 524.1,221.8 525.2,226 526.4,228.2 527.5,230.5 529.4,232.7 530.9,238 531.2,241 532.4,243.2 532.4,245 527.1,245 526.7,242.5 526,239.5 524.9,238 524.1,234.2 523,232 521.9,230.5 521.9,221.5 521.1,220.7 521.1,218.5"/>
<polygon fill="#00f0ff" points="517,238.7 518.9,239.1 520,241 520.7,243.2 520.7,245 517,245"/>
<polygon fill="#00f0ff" points="530.1,196 538,196 538,204.6 536.9,204.6 536.5,202 535.4,199.7 535,198.2 534.2,198.2 534.2,208.4 533.1,208.4 532,205.7 531.2,202.7 530.1,200.5"/>
<polygon fill="#00f0ff" points="538.7,196 539.5,196 539.5,198.2 538.7,198.2"/>
<polygon fill="#00f0ff" points="546.6,198.2 547.7,199.4 548.5,200.5 548.8,208 548.1,208.7 548.1,219.6 546.6,220 545.1,218.5 544,218.1 543.6,219.2 542.5,218.9 542.1,216.2 541,214 541,212.1 540.2,211 539.9,201.2 541,200.5 542.5,200.9 544.7,200.9 545.8,199.7"/>
<polygon fill="#00f0ff" points="534.2,215.9 535.4,216.2 536.1,219.2 536.9,220.7 537.2,226 538,229 538.4,232 539.5,233.5 540.2,235.7 541.4,236.8 542.1,238.7 542.1,241.7 543.2,242.5 543.2,240.2 544,240.2 544,245 539.5,245 538.7,241.7 538,238.7 537.2,235 536.5,232.7 535.4,227.5 534.6,224.5 534.2,220.7"/>
<polygon fill="#00f0ff" points="533.1,240.2 535,240.2 535,245 533.1,245"/>
<polygon fill="#00f0ff" points="551.1,196 551.8,196 551.8,197.1 551.1,197.1"/>
<polygon fill="#00f0ff" points="555.2,196 556.7,196 556.7,200.5 556,201.2 556,209.9 555.2,209.9"/>
<polygon fill="#00f0ff" points="554.3,214 555.1,214 555.1,224.8 553.3,227.7 552.9,234.1 551.9,238.5 550.9,243.4 550,245 548,245 549,239.5 550.2,237.4 550.2,227.2 551.2,222.8 553.1,217.9"/>
<polygon fill="#00f0ff" points="557.8,202 559,201.2 559.7,197.5 560.5,196 561.2,196 561.2,200.5 562,200.5 562.3,198.2 562.7,196 565.7,196 565.7,203.5 565,204.2 565,213.2 564.1,213.6 563.9,226.7 562.6,227.2 562.2,235.5 561.2,236 561.2,241.4 559.7,242.4 559.7,245 557,245 557,242.4 558.5,241.4 558.5,236.5 560.2,235.5 560.2,227.7 562,226.7 562.2,213 561.6,211 560.5,212.5 560,213 559.3,213.5 559,220.8 558,224.8 557.5,232.1 557,238 556,241.4 556,245 553.1,245 553.1,239.9 555.1,233.1 556,225.2 557.3,218.9 557.8,214"/>
<polygon fill="#00f0ff" points="565.3,233.1 565.9,233.1 566.1,235.5 567,236 566.8,240.9 566.1,241.4 565.9,245 562.2,245 562.2,243.4 562.9,242.4 563.2,238 564.1,236 564.9,234.5"/>
<polygon fill="#00f0ff" points="570.9,196 576.9,196 576.9,199.4 575.4,200.9 574.7,203.1 573.6,205 572.8,208 572.1,211 570.9,213 570.9,215.7 570,216.5 569.7,218.9 569,219.4 568.8,220.8 568,221.1 567.8,222.8 566.3,222.8 566.1,221.1 565.1,219.4 565.1,213 565.3,211 566.1,209.9 567.9,208.4 568.7,205.7 569.4,203.5 569.8,200.5 570.6,198.2"/>
<polygon fill="#00f0ff" points="582,207.6 580.3,209.1 579.2,211.7 579,213 578.3,213.8 578.1,218.9 576.3,219.8 575.9,221.3 574.4,222.8 572.4,224.8 570.9,226.2 570.9,229.9 570,230.2 569.7,234.1 569,234.5 568.8,237 568,237.2 568,245 573,245 573,242.4 573.9,241.9 574.2,240.1 575.9,240.1 576.1,242.4 576.9,242.4 577.1,239.7 578.3,238.9 579.3,239.9 580.3,240.9 581.7,240.9 582,240.6"/>
<polygon fill="#00f0ff" points="575.1,242.8 578.1,242.8 578.1,245 575.1,245"/>
<polygon fill="#ffd200" points="574.1,212 575,212 575,212.9 574.1,212.9"/>
<polygon fill="#ffd200" points="559.1,222.9 560,222.9 560,223.8 559.1,223.8"/>
</g>
<g shape-rendering="crispEdges" clip-path="url(#c11)">
<rect x="582" y="196" width="65" height="49" fill="#ffff00"/>
<polygon fill="#00f0ff" points="586.1,196 588,196 588,199.4 588.7,200.5 589.9,199 591,196 598.9,196 597.4,197.9 596.6,199.7 595.9,205 594.4,206.9 594,211 592.9,212.5 592.5,215.9 591.4,217.7 589.9,220 588,222.2 586.1,224.1 585.7,227.5 585,228.2 585,233.5 583.9,234.6 583.5,238.7 582,240.2 582,206.9 582.7,206.5 583.1,203.9 583.9,201.2 585,199.7"/>
<polygon fill="#00f0ff" points="607.1,196 621,196 620.6,197.9 619.1,199 618.3,198.2 618,200.9 616.8,201.6 616.1,206.5 615.7,213.6 615,214.4 614.6,219.2 613.8,220.7 613.1,226 612,227.5 610.8,229.7 610.1,233.1 609,235 607.8,233.8 607.8,232 609,230.1 609,226.7 610.1,226 610.1,221.1 609,221.1 608.2,222.2 607.8,225.2 606,227.5 605.6,229.7 604.5,230.8 602.2,231.2 600.7,232.7 600,235 598.1,237.2 596.6,239.5 595.9,242.5 594,243.2 594,245 585,245 585.4,241.7 586.9,240.2 588.4,238 589.9,235.7 589.9,233.5 591,231.2 592.5,229 593.2,224.8 594.7,221.5 596.6,219.2 598.1,217 598.9,214 600.4,211.7 601.1,208 602.2,205.7 603.4,203.9 604.9,201.6 606,199"/>
<polygon fill="#00f0ff" points="625.1,199 626.6,198.2 627,200.5 627,204.2 625.8,206.5 624.7,208 624,207.2 624,201.2"/>
<polygon fill="#00f0ff" points="632.2,196 634.1,196 633.7,197.1 632.2,197.1"/>
<polygon fill="#00f0ff" points="641.2,196 647,196 647,203.1 644.6,203.1 643.1,204.6 641.6,206.9 641.2,211 640.4,212.1 640.1,215.5 638.9,216.6 638.2,218.1 635.9,218.5 635.9,224.1 633.3,224.5 632.9,229 633.7,231.2 634.4,233.8 633.7,235 632.2,238 631.1,238 630.7,241 630,245 628.1,245 628.1,244 628.8,242.5 628.8,239.5 629.6,238 630.7,232 631.1,229.3 630,229 628.1,228.2 628.8,226 629.2,221.5 630,217 631.1,215.9 632.9,214.4 633.7,212.1 634.8,210.2 635.6,208 635.9,203.5 637.1,202.4 638.9,202 639.3,203.1 640.1,202.7 640.1,199 641.2,198.2"/>
<polygon fill="#00f0ff" points="641.6,218.5 647,218.5 647,238 645.7,238 644.9,239.5 643.8,241.7 643.1,245 639.7,245 640.4,243.2 641.2,241 641.2,238 641.9,234.6 641.2,234.2 639.7,236.5 637.4,239.1 635.9,241 634.4,242.8 633.3,241.3 632.2,238.7 633.7,235 634.4,233.8 635.2,232 635.9,229 637.8,227.5 638.9,225.6 639.7,223.7 640.1,222.2 641.2,221.5"/>
<polygon fill="#00f0ff" points="622.5,235.7 623.6,236.8 624.7,238 625.5,236.5 626.2,233.5 627,232.7 627,241 627.7,245 617.2,245 618,241.7 619.5,239.5 621.3,237.2"/>
</g>
<g shape-rendering="crispEdges" clip-path="url(#c12)">
<rect x="257" y="245" width="65" height="49" fill="#ffff00"/>
<polygon fill="#00f0ff" points="257,245 258.1,245 258.1,247.6 257,248"/>
<polygon fill="#00f0ff" points="262.2,246.1 263.7,246.1 264.9,247.2 264.9,254.4 264.1,257 263,259.2 261.9,262.2 260,264.1 258.9,264.9 258.9,258.5 260,257 260,251 261.1,249.9 261.1,247.2"/>
<polygon fill="#00f0ff" points="275,245 287,245 285.1,246.9 284.7,249.5 284,250.6 283.6,257 282.8,257.4 282.8,259.6 281,259.6 279.5,258.1 278,257.7 276.9,257 275.4,257 274.2,257.7 273.9,262.6 272.7,263.4 272.7,274.6 273.9,276.1 274.6,278.3 275.7,280.2 276.9,282.5 277.6,284.7 278.7,287 279.5,290 279.9,294 272.4,294 272,278 270.9,276.8 270.1,277.2 269.4,280.2 268.2,282.1 267.9,284.7 265.2,285.1 264.1,287 263,288.5 262.6,291.1 261.5,291.8 261.1,288.5 261.1,276.1 261.9,275 261.9,270.1 263,268.2 264.5,266.4 266,265.6 266,256.2 267.1,254.4 267.9,254 269.4,255.1 271.2,256.2 272.7,257 273.1,249.1 274.2,248"/>
<polygon fill="#00f0ff" points="288.1,260 290,260 291.1,261.9 292.6,263.4 293.3,266.7 294.1,267.5 294.5,273.5 295.6,275.7 296,282.5 296.7,284 297.1,290 296.7,294 293,294 292.6,290 291.5,287 290.7,282.5 290,281 289.2,281.7 288.8,285.8 288.1,286.2 287.7,292.2 287,294 286.2,294 285.8,278.7 284.7,277.2 284,276.5 284,267.1 285.1,266 287,264.9 287.3,262.6"/>
<polygon fill="#00f0ff" points="298.2,245 302,245 302,248 301.2,250.2 300.8,254 298.2,254.4 297.8,267.5 298.2,270.5 297.8,293 297.1,293 297.1,269.7 296,265.2 295.2,263 294.1,261.1 293.3,257.7 292.2,254.7 292.2,252.5 293.3,249.9 294.5,251 296,251.7 297.5,251 298.2,249.5"/>
<polygon fill="#00f0ff" points="298.6,274.2 299.7,274.2 300.1,284 301.2,284 302,290 302,294 298.2,294 298.2,275"/>
<polygon fill="#00f0ff" points="302,260 302.9,260 303.1,263.7 304.1,264.1 304.1,267.5 303.1,267.9 302.7,266 302,265.2"/>
<polygon fill="#00f0ff" points="316.2,245 322,245 322,248 319.2,248.4 317.7,249.9 316.2,248.4"/>
<polygon fill="#00f0ff" points="305,274.2 306.8,274.2 307.9,276.5 308.3,281 309.4,281.7 309.8,287.7 310.6,290 310.9,285.5 312.1,284.7 312.4,280.2 313.2,280.2 313.6,282.1 314.7,279.8 316.2,279.1 316.9,279.8 317.7,284.7 318.4,290 318.8,294 316.2,294 316.2,292.2 315.1,292.2 315.1,294 305.7,294 305.7,290 305.3,281 305,278"/>
<polygon fill="#00f0ff" points="319.2,269 320.7,269 322,270.1 322,294 319.2,294 318.8,290 319.2,278"/>
</g>
<g shape-rendering="crispEdges" clip-path="url(#c13)">
<rect x="322" y="245" width="65" height="49" fill="#00f0ff"/>
<polygon fill="#ffff00" points="322,245 323.9,245 324.2,247.2 325.7,248.4 326.1,252.1 328.7,252.5 328.7,254.7 328,255.5 327.6,257.7 326.1,257.7 325.7,256.2 324.6,257 323.9,259.2 323.9,263 323.1,263.4 322.7,269 322,269"/>
<polygon fill="#ffff00" points="334,245 344.9,245 344.9,249.9 343.7,250.6 343,252.5 341.9,253.6 341.1,255.1 340,256.2 339.2,258.5 338.5,260 338.1,258.5 338.1,252.1 339.2,251.7 339.2,248.7 338.1,248.4 337.4,247.2 336.2,247.2 335.9,248.7 334,248.7"/>
<polygon fill="#ffff00" points="349,245 350.8,245 350.8,249.5 349.7,250.6 349.3,252.9 348.2,253.6 347.8,256.2 347.1,257.7 346,257.7 346,252.5 347.1,251.7 347.8,248.7"/>
<polygon fill="#ffff00" points="353.1,251 355,251.4 355,256.6 354.2,257.4 353.8,261.9 352.7,262.6 352,264.9 350.5,264.9 350.1,263 350.1,258.5 351.2,257.4 351.6,255.1 352.3,252.5"/>
<polygon fill="#ffff00" points="366.2,245 371.8,245 371.8,249.9 372.9,250.2 374.4,249.9 375.6,249.1 375.9,247.2 377.1,247.2 377.1,248.7 375.9,249.5 375.6,253.2 374.8,256.2 373.7,257.7 372.9,257.4 372.2,255.9 371.8,252.1 370,252.1 369.6,252.9 368.1,252.9 368.1,248.4 367,247.2"/>
<polygon fill="#ffff00" points="387,248 384.9,248.4 384.2,250.2 384.2,254.7 385.3,255.5 385.3,263 386.4,264.9 387,264.9"/>
<polygon fill="#ffff00" points="367.3,255.1 368.1,255.5 368.1,262.6 367.3,263.4 367,266.7 365.8,267.5 364.3,268.2 362.8,270.1 362.8,272.7 362.1,273.5 361.7,278 361,278.7 360.6,284.7 360.2,285.5 359.1,289.2 358.7,294 355,294 355,289.2 356.1,287.7 356.8,285.5 357.2,280.2 358,278.7 358,273.1 358.7,272.3 359.1,268.2 360.2,267.1 360.6,264.9 361,261.1 362.1,260 362.1,257.7 363.6,257 366.2,257"/>
<polygon fill="#ffff00" points="377.8,262.2 379.3,262.6 380.1,263.7 380.4,266 381.9,267.5 383.1,269.4 383.1,285.1 382.3,285.8 381.9,289.2 381.2,290 381.2,294 370,294 370,280.2 371.1,278.7 371.1,276.1 372.2,274.6 372.2,272.7 373.3,270.8 374.8,268.2 375.2,265.2 376.3,263.7"/>
<polygon fill="#ffff00" points="387,278 385.7,278.7 385.3,281.7 384.2,282.1 384.2,294 387,294"/>
<polygon fill="#ffff00" points="331,259.2 331.7,259.2 331.7,272 331,272.3 331,290.3 330.6,293 329.9,294 328,294 328,291.5 329.1,290.7 329.1,265.2 329.9,264.9 329.9,260.4"/>
<polygon fill="#ffff00" points="336.2,265.2 337.7,265.2 338.1,279.8 337,280.6 337,284 335.9,284.3 335.5,289.2 335.1,294 334,294 334,273.1 335.1,272.3 335.1,267.5"/>
<polygon fill="#ffff00" points="341.1,267.1 341.9,267.1 341.9,272.7 340.7,273.1 340.7,286.6 339.2,286.6 339.2,273.1 340.7,272.7"/>
<polygon fill="#ffff00" points="323.9,287 325,287.3 325.7,288.5 325.7,294 324.2,294 323.9,291.5"/>
<polygon fill="#ffff00" points="346.4,278 346.9,278 346.9,284.7 349,284.7 349,281.3 350.8,281.3 350.8,287 349,287.3 348.6,290 349.7,290.7 349.7,294 343,294 344.1,292.2 344.1,289.2 345.2,288.1 345.2,282.1 346,281.7"/>
</g>
<g shape-rendering="crispEdges" clip-path="url(#c14)">
<rect x="387" y="245" width="65" height="49" fill="#ffff00"/>
<polygon fill="#00f0ff" points="387,245 391.9,245 391.9,246.9 394.1,246.9 394.1,245 397.1,245 397.5,247.2 399,248.4 399.4,250.2 400.9,252.1 401.2,255.5 402.4,257.7 404.2,259.6 406.1,260.4 407.2,261.5 407.6,263.4 408.7,265.2 409.1,267.5 409.9,270.8 410.2,273.8 411.4,273.8 411.4,271.2 412.1,270.5 411.7,266.4 411,265.2 410.6,263 409.9,262.6 409.9,255.1 409.1,254.7 408.7,250.2 408,249.5 406.9,247.2 406.9,245 412.1,245 412.8,246.9 413.6,249.1 414,252.1 415.1,252.9 415.8,254.4 417.7,255.1 418.1,258.1 419.2,258.5 419.2,267.9 420,268.2 420.3,275 421.1,275.7 421.1,282.8 421.8,283.2 422.2,294 419.2,294 418.8,289.2 418.1,288.1 417.7,279.1 417,278.7 416.6,275.7 415.8,274.2 415.1,274.2 414.7,275.7 414,276.5 413.6,279.8 412.8,280.6 412.8,285.1 412.1,285.5 412.1,288.1 412.8,288.5 413.2,294 402,294 401.6,290 400.9,289.6 400.1,285.5 399.4,285.1 399,287 399,294 388.1,294 388.9,292.2 389.2,290 390.4,290.7 391.9,291.8 393,290.7 393,285.1 394.1,284.3 394.1,278 394.9,277.2 394.9,270.8 396,270.5 396,265.2 394.9,264.9 394.1,263 393.7,261.1 392.2,260.4 391.9,257.4 391.1,257 390.7,251.7 390,251 389.6,249.1 388.5,248 387,248"/>
<polygon fill="#ffff00" points="396.9,258.1 398.1,258.1 398.1,260 396.9,260"/>
<polygon fill="#00f0ff" points="387,268.2 387.9,268.2 387.9,276.8 387,276.8"/>
<polygon fill="#00f0ff" points="422.2,257 423,257 424.1,258.5 425.2,259.6 426,261.1 426.3,264.9 427.5,267.9 428.2,270.8 429,273.8 430.1,275 430.5,278 431.2,278.3 431.2,294 426,294 426,286.2 425.2,285.8 424.8,275.7 424.1,275 423.7,270.1 423,269.7 422.6,266.7 421.8,266 421.8,257.4"/>
<polygon fill="#00f0ff" points="431.2,249.1 432.3,249.1 433.1,251.7 433.8,252.9 435,254.4 435,257 436.1,257.4 436.1,261.9 435,261.9 434.2,259.6 433.1,258.9 432.7,254.7 432,252.5 431.2,251.7"/>
<polygon fill="#00f0ff" points="435,245 437.9,245 437.9,246.9 436.8,248 436.1,247.2 435,246.9"/>
<polygon fill="#00f0ff" points="440.9,245 443.9,245 443.9,247.6 442.8,248 442.1,247.2 440.9,246.9"/>
<polygon fill="#00f0ff" points="446.9,245 449.9,245 449.9,246.9 447.3,246.9"/>
<polygon fill="#00f0ff" points="451.1,246.9 452,246.9 452,255.1 450.3,255.1 449.9,254 451.1,253.6"/>
<polygon fill="#00f0ff" points="436.1,263 437.9,263 438.3,264.9 439.1,265.2 439.1,271.6 437.2,272 436.8,275.7 436.1,276.1"/>
<polygon fill="#00f0ff" points="448.1,263 449,263 449,270.8 448.1,270.8 446.9,268.2 446.9,265.2"/>
<polygon fill="#00f0ff" points="442.4,272 443.2,272.3 443.2,274.2 443.9,274.6 444.3,276.8 445.1,277.2 445.4,284 446.2,284.3 446.2,294 443.2,294 443.2,291.1 441.3,291.1 440.9,276.5 442.1,275.7"/>
<polygon fill="#00f0ff" points="436.1,276.8 436.8,276.8 437.2,281 437.9,281.3 437.9,287.7 436.8,288.1 436.4,281.7 436.1,281"/>
<polygon fill="#00f0ff" points="433.1,281 434.2,281 435,282.1 435.3,287.7 436.1,288.1 436.1,294 433.1,294"/>
</g>
<g shape-rendering="crispEdges" clip-path="url(#c15)">
<rect x="452" y="245" width="65" height="49" fill="#ffff00"/>
<polygon fill="#00f0ff" points="452,245 476,245 477.8,246.1 479,247.2 479,249.5 477.8,250.2 477.8,254 476.7,254.7 476.7,257 476,257.7 476,260 474.9,260.7 474.5,262.6 473.7,263.7 473.4,266 472.2,266.7 472.2,269 473.4,270.1 474.1,271.2 474.1,275.7 473,276.5 473,281.7 471.9,282.5 471.9,289.2 471.1,290 470.7,293 470,294 467,294 467,278 468.1,277.2 468.1,269.4 469.2,268.2 469.2,266 470,265.2 470,256.2 468.9,255.1 468.1,254.4 467.4,256.2 465.9,257.4 464.7,257.7 463.2,256.6 461.4,256.2 459.5,256.6 458.4,258.9 458,261.5 456.5,263 455,261.5 454.6,258.1 453.9,257 453.9,254 452,254"/>
<polygon fill="#ffff00" points="455.4,246.1 456.9,246.1 456.9,250.6 455.4,251.7"/>
<polygon fill="#ffff00" points="471.1,270.8 472.1,270.8 472.1,275.7 471.1,276.1 470.7,276.8 470,276.8 470,276.1 471.1,275"/>
<polygon fill="#00f0ff" points="488.3,251 489.1,251 489.1,255.5 488,256.6 486.8,257.7 486.1,260 486.1,264.5 487.2,265.2 488.3,266.7 489.5,266 490.2,264.1 493.2,264.1 494.7,265.2 497,266 497,273.8 496.2,274.2 496.2,287.7 497,288.5 497,294 473,294 473.4,289.2 474.1,288.8 474.1,286.2 476,285.8 476,282.1 477.8,279.8 477.8,276.5 479,275.7 479,273.8 480.1,273.5 480.1,272 481.2,271.6 481.6,269.7 483.1,269 483.1,267.1 484.2,266.7 484.2,262.6 485,261.9 485,258.1 486.1,257.4 486.1,255.5 487.2,254.7 487.2,252.1"/>
<polygon fill="#00f0ff" points="495.1,245 508.9,245 508.9,248.4 510.1,249.1 510.1,251 511.2,252.5 511.6,255.5 512.7,257.4 513.1,263.4 514.6,263.7 514.9,260.7 515.7,260.4 516.1,254.7 514.9,252.5 514.2,250.6 514.2,245 517,245 517,267.1 516.1,267.1 516.1,271.6 517,272 517,294 510.1,294 510.1,267.5 508.9,267.1 508.9,268.6 507.4,269 507.1,267.1 505.9,267.1 505.6,267.9 503.3,267.9 502.9,266.4 501.8,266 501.1,255.1 500.7,251.4 500,251.4 500,255.5 499.6,260.7 498.8,263.7 498.1,263.7 498.1,254.7 497,253.2 496.2,250.6 495.1,248.7"/>
<polygon fill="#00f0ff" points="502.2,279.8 502.9,279.8 502.9,289.2 503.7,290 504.1,294 500.7,294 501.1,285.5 501.8,284.7"/>
<polygon fill="#0014ff" points="514.2,273.8 514.9,273.8 515.3,280.2 516.1,280.6 516.1,294 513.1,294 513.1,287.3 513.8,286.6"/>
</g>
<g shape-rendering="crispEdges" clip-path="url(#c16)">
<rect x="517" y="245" width="65" height="49" fill="#00f0ff"/>
<polygon fill="#ffff00" points="521.1,245 528.2,245 528.2,248 529.4,249.9 529.4,252.5 530.5,254.7 530.9,258.5 531.6,260.7 532,263.7 532,270.5 531.6,289.2 532.7,290 533.1,294 531.2,294 530.9,289.2 530.1,287 530.1,263 529.4,261.9 528.6,259.6 527.5,257.7 526.4,256.2 525.2,254 524.9,251.4 524.1,249.5 522.6,248 521.1,246.9"/>
<polygon fill="#ffff00" points="520.4,260 521.1,261.9 521.9,264.5 523,266.7 524.5,268.2 525.2,272.7 526,275 527.1,277.2 527.5,281 528.2,282.5 528.2,294 517,294 517,263.7 518.1,262.6 519.2,261.1"/>
<polygon fill="#ffd200" points="520,272 521.9,272 521.9,276.5 523,277.2 523.7,282.5 524.1,287 524.1,294 520,294"/>
<polygon fill="#ffff00" points="534.2,249.1 535,249.5 535.4,254.7 536.1,256.2 536.5,259.2 536.9,263 537.6,265.2 538.7,268.2 539.5,270.5 540.2,273.5 541.4,275 542.1,276.5 541.7,281 542.8,282.5 542.8,294 538,294 538,281 537.2,278 536.9,273.5 536.1,270.5 535.4,265.2 534.6,261.5 534.2,257 533.1,253.2 533.1,251.7 534.2,251"/>
<polygon fill="#ffff00" points="533.1,278 534.2,278 534.6,284 535,294 533.5,294 533.1,287"/>
<polygon fill="#ffff00" points="536.5,245 538.7,245 539.1,246.5 541,248.7 542.1,251.4 543.2,252.5 544,254.4 545.1,253.2 545.1,264.9 544,264.9 543.2,263 542.5,260.7 541.4,257.7 540.2,255.9 539.5,254 538.4,252.5 537.6,250.2 536.9,247.2"/>
<polygon fill="#ffff00" points="532,245 533.1,245 533.1,246.1 532,246.1"/>
<polygon fill="#ffff00" points="547,245 548.1,245 548.1,246.1 547,246.1"/>
<polygon fill="#ffff00" points="550,245 552.1,245 552.1,255.1 551.1,255.5 551.1,257.7 550.7,262 549.2,262 550,258.5"/>
<polygon fill="#ffff00" points="553.3,246.1 554.1,246.1 554.1,254.7 553.3,254.7"/>
<polygon fill="#ffff00" points="556,251 557.1,251 557.1,254.7 556.3,255.5 556,260 555.2,260 555.2,254.7"/>
<polygon fill="#ffff00" points="558.1,256.2 559,256.2 559,261.1 558.1,261.1"/>
<polygon fill="#ffff00" points="560.1,257 561.2,257 561.2,262 560.1,262"/>
<polygon fill="#ffff00" points="554.1,261.1 554.8,261.1 554.8,262 554.1,262"/>
<polygon fill="#ffff00" points="560.5,245 562,245 562,251.7 561.2,253.6 560.5,252.5"/>
<polygon fill="#ffff00" points="566.1,245 567.9,245 567.9,247.2 566.8,248.7 566.8,254 566.1,258.5 565.7,262 563.1,262 563.1,259.2 563.8,258.5 564.6,253.2 565,249.5"/>
<polygon fill="#ffff00" points="573.2,245 575.1,245 575.1,246.9 573.9,248.4 572.8,250.6 572.8,260 572.8,262 568.7,262 569.4,260 569.8,257.7 570.2,251.7 571.3,250.2 572.1,248.4"/>
<polygon fill="#ffff00" points="578.4,245 582,245 582,257.7 580.7,258.5 580.3,260.7 579.2,261.1 578.4,256.2"/>
<polygon fill="#ffff00" points="575.8,260 577.7,260 578.1,262 574.1,262 574.3,260.7"/>
<polygon fill="#ffd200" points="564.2,263 565,263 565,267.5 564.2,267.5"/>
<polygon fill="#0014ff" points="528.2,267.9 529,267.9 529.4,272.3 530.1,273.1 530.1,288.1 530.9,288.8 530.9,294 529.4,294 529,281 528.2,280.2"/>
<polygon fill="#0014ff" points="535,273.1 536.1,273.1 536.3,275 537.1,275.7 537.1,282.5 536.1,282.8 535.7,278.7 535,278"/>
</g>
<g shape-rendering="crispEdges" clip-path="url(#c17)">
<rect x="537" y="262" width="45" height="32" fill="#00f0ff"/>
<polygon fill="#ffff00" points="537,264 537.7,264.2 538,266.7 539,267.5 539.2,269 540,269.7 540.2,272.7 541,273.4 541.2,274.9 542,275.4 542,276.9 541,277.4 541.2,281.4 542,282.9 543,283.9 543.2,281.9 544,281.9 544,268.2 545.7,268 546,271.5 547,272 547.2,266 548.4,265.5 548.9,264.5 549.2,262 550.7,262 550.7,265 549.9,266 549.7,268.5 549.2,269.5 548.9,273 548.2,273.9 548,274.9 548,279.9 547.2,280.4 547.2,286.9 547,287.9 547,294 542,294 542,293.1 538,293.1 538,270 537,270"/>
<polygon fill="#ffff00" points="543,262 545,262 545,264.7 544.2,265 544,264 543,263.7"/>
<polygon fill="#ffff00" points="551.9,262 552.9,262 552.9,264.7 551.9,264.7"/>
<polygon fill="#ffff00" points="553.9,262 554.9,262 554.9,266.7 554.2,266.7 553.9,265"/>
<polygon fill="#ffff00" points="553.2,269 553.9,269.2 554.2,278.9 554.9,278.9 555.2,271.5 555.9,271 556.2,268 556.9,268.2 557.2,294 549.2,294 549.4,281.9 550.2,281.4 550.4,277.4 550.9,277.2 551.2,280.9 551.9,281.2 552.2,275.4 552.9,274.4"/>
<polygon fill="#ffff00" points="558.2,271 558.9,271.2 559.9,272.5 559.9,277.9 559.2,278.2 558.9,284.9 557.9,284.9"/>
<polygon fill="#ffff00" points="559.9,262 561.1,262 561.1,268.7 560.1,269 559.9,267"/>
<polygon fill="#ffff00" points="561.1,273.9 561.9,274.2 561.9,277.4 562.9,277.7 562.9,294 560.1,294 560.1,278.4 560.9,277.9"/>
<polygon fill="#ffff00" points="563.1,262 566.1,262 566.1,268.5 565.4,269.2 564.9,275.4 564.1,276.2 563.6,276.9 563.1,276.4 562.9,269.5"/>
<polygon fill="#ffff00" points="566.4,278.9 567.9,278.9 567.9,287.9 567.1,289.1 566.4,289.9 566.1,288.9"/>
<polygon fill="#ffff00" points="568.9,262 572.8,262 572.8,264 572.3,264.5 572.1,267.5 573.1,267.7 573.3,265 574.1,264.2 574.1,262 578.1,262 578.1,269.7 577.3,270.2 577.1,272.5 576.3,273.2 576.1,281.9 575.1,282.4 574.1,283.4 573.8,284.9 573.1,284.6 572.8,282.9 572.1,282.7 571.8,276.4 571.1,276.2 570.4,277.4 569.4,278.9 568.1,279.9 567.9,278.9 566.9,278.9 566.9,274.4 567.9,273.9 568.1,265.2 568.9,264.5"/>
<polygon fill="#ffff00" points="579.1,287.1 579.8,287.4 580.8,288.1 581.1,292.9 580.3,294 578.3,294 578.1,293.1 579.1,292.4"/>
<polygon fill="#ffd200" points="539,277.9 540,277.9 540,281.7 539,281.7"/>
<polygon fill="#ffd200" points="544.2,273.9 545.2,273.9 545.5,284.4 546.2,285.4 546.2,289.9 544,290.9 543.2,290.4 544,289.9"/>
<polygon fill="#ffd200" points="549.9,281.9 551.4,281.7 551.7,285.9 550.9,286.4 550.7,294 549.2,294 549.4,285.9"/>
<polygon fill="#ffd200" points="552.9,281.9 554.2,281.9 554.2,286.9 552.9,287.1"/>
<polygon fill="#ffd200" points="555.2,273.9 556.9,273.9 556.9,290.9 555.2,290.9"/>
<polygon fill="#ffd200" points="561.1,280.9 562.6,280.9 562.9,291.9 562.4,294 560.4,294 560.6,285.9"/>
<polygon fill="#ffd200" points="564.1,263 565.4,263 565.4,268.5 564.1,268.7"/>
<polygon fill="#ffd200" points="563.1,269.5 564.1,269.5 564.1,271.7 563.1,271.7"/>
<polygon fill="#ff6400" points="555.2,277.9 556.2,277.9 556.4,281.9 556.2,288.9 555.4,290.9 554.9,288.9 554.9,281.9"/>
<polygon fill="#ff6400" points="552.9,286.9 554.2,286.9 554.4,291.9 554.2,294 552.9,294"/>
<polygon fill="#ff6400" points="549.7,285.9 550.9,285.9 550.9,291.9 549.4,292.4"/>
<polygon fill="#ff6400" points="543.5,290.4 545.2,290.9 546,292.4 546,294 543.5,294"/>
<polygon fill="#0014ff" points="548.7,273 549.9,273 550.2,276.4 549.4,276.9 549.2,283.4 548.2,283.9 548,280.4 548.2,274.9"/>
<polygon fill="#0014ff" points="547.2,286.9 548.2,287.1 548.4,290.9 549.2,291.4 549.2,294 547.2,294"/>
<polygon fill="#0000a0" points="547.5,291.4 548.9,291.4 548.9,294 547.5,294"/>
<polygon fill="#0014ff" points="563.9,279.9 565.1,279.9 565.1,294 563.9,294"/>
<polygon fill="#0014ff" points="557.9,287.9 559.2,287.9 559.2,291.9 557.9,291.9"/>
<polygon fill="#0014ff" points="575.1,286.9 576.1,287.1 576.1,294 573.1,294 573.1,293.1 574.1,292.4 574.1,289.1"/>
</g>
<g shape-rendering="crispEdges" clip-path="url(#c18)">
<rect x="582" y="245" width="65" height="49" fill="#ffff00"/>
<polygon fill="#00f0ff" points="583.9,245 594,245 593.2,246.9 592.9,250.2 591.4,251.4 591,254 589.9,254.7 589.5,258.1 588,259.6 586.9,261.1 586.9,263 586.1,263.7 585.7,269 585,269.7 584.6,272 583.9,272.7 583.5,275 582.7,275.7 582.7,278 582,278 582,257 583.1,256.6 583.1,252.9 583.9,252.5"/>
<polygon fill="#00f0ff" points="616.1,245 630,245 630,249.9 631.1,250.2 631.1,251.7 632.2,251.7 632.2,250.2 633.7,250.2 634.1,254.7 635.2,255.5 635.9,257.4 637.1,257.7 637.8,257 637.8,252.5 638.9,251.7 639.3,248.4 640.1,247.2 640.4,245 641.9,245 641.6,247.2 640.4,248.7 640.1,252.1 638.2,252.5 638.2,257.7 637.4,258.5 637.4,268.2 637.1,269 636.7,282.5 635.9,284 635.9,290 635.2,291.5 634.4,294 632.9,294 632.9,290 634.1,288.5 634.1,263.4 632.2,263.4 631.8,269 631.1,269.4 631.1,273.5 630.3,274.2 630,278 628.8,278.3 628.5,281.7 627.7,282.5 627.7,294 627,294 627,279.5 626.2,278.7 625.8,271.2 624.7,271.2 623.2,272.3 622.8,273.8 621,274.2 621,278 620.2,278.7 619.1,280.6 618.3,282.5 617.2,285.8 616.1,287.3 615.7,294 605.2,294 604.9,281.7 604.5,281 603.4,282.1 603,286.2 602.2,287 601.9,290 601.1,291.5 600.7,294 589.9,294 591,290.7 591.7,290 592.1,282.5 594,282.1 595.1,282.8 595.5,280.2 596.2,279.5 596.2,274.2 597,273.5 597.4,272 598.1,272.3 598.5,274.2 599.2,276.5 600,276.8 600.7,275 601.1,273.5 601.9,271.2 603,269.7 603.4,268.6 604.9,267.1 606,266 606.7,264.5 607.8,264.1 607.8,272.7 607.1,273.5 606,275 606,276.8 607.1,277.2 607.5,279.8 609,279.8 609,273.1 610.1,271.2 610.8,269.7 611.2,267.5 612.3,266 613.1,263 614.2,261.5 615,258.9 615,250.2 616.1,249.5"/>
<polygon fill="#00f0ff" points="623.2,290 624.3,290.7 625.8,290.7 626.2,294 623.2,294"/>
<polygon fill="#ffff00" points="610.1,293 612,293 612,294 610.1,294"/>
<polygon fill="#00f0ff" points="587.2,284 588,284.3 588,293 586.9,294 585.7,294 586.1,285.8"/>
<polygon fill="#00f0ff" points="582,290 583.1,290 583.1,294 582,294"/>
<polygon fill="#00f0ff" points="644.6,257 645.7,257 645.7,261.1 644.2,263 643.8,266.7 642.7,267.5 642.3,271.2 641.6,272 641.2,276.5 640.4,277.2 640.1,284 639.3,284.7 638.9,287 637.8,286.6 638.2,284 639.3,282.5 639.3,275.7 640.1,275 640.4,271.2 641.2,270.5 641.6,267.5 642.3,266.7 642.7,263 643.4,262.2 643.8,259.2"/>
<polygon fill="#00f0ff" points="645.3,245 647,245 647,248.7 645.3,248.7"/>
</g>
<g shape-rendering="crispEdges" clip-path="url(#c19)">
<rect x="257" y="294" width="65" height="49" fill="#00f0ff"/>
<polygon fill="#ffff00" points="257,294 273.1,294 273.1,307.9 273.9,308.6 273.9,328.8 273.1,329.2 273.1,334.8 272,335.2 271.6,336.7 270.5,336 269.4,334.8 268.6,336 267.5,336.7 266.4,335.6 265.6,334.1 264.9,333.7 264.9,324 266,323.2 266,321.3 264.9,320.6 264.9,311.2 263.7,310.9 263.7,309.4 263,308.6 263,302.6 261.9,301.9 260.7,301.9 260,302.6 260,306.7 259.2,307.5 258.9,309.7 257.7,310.5 257.7,313.9 257,314.2"/>
<polygon fill="#ffff00" points="281,294 285.8,294 285.8,297.7 285.1,298.5 284.7,301.5 284,302.2 283.6,304.1 282.8,303.7 282.1,301.5 281.7,298.9 281,298.1"/>
<polygon fill="#ffff00" points="287,294 293,294 293.7,294.7 294.1,315.7 294.8,316.5 295.2,329.6 296,330.3 296,343 293.3,343 293,342 291.5,342 291.1,337.5 290,336.3 289.2,335.2 289.2,312 290,312 290.3,318.4 291.1,319.1 291.1,322.5 291.8,322.8 292.2,318 293,317.6 293,307.9 292.2,307.5 291.8,299.6 290.7,298.1 290,298.5 290,300.7 288.8,301.9 288.1,301.5 287.7,298.9 287,298.5"/>
<polygon fill="#ffff00" points="302.3,294 306.1,294 306.1,295.5 305,296.2 305,317.6 304.2,318 303.8,315 303.1,314.6 302.7,305.2 302,304.9"/>
<polygon fill="#ffff00" points="309.1,304.1 309.8,304.1 310.2,307.9 311.3,309.7 312.8,311.2 313.2,316.1 313.9,316.5 314.1,321.7 313.2,321.7 312.8,319.8 312.1,316.1 311.3,313.5 310.2,313.1 310,315.7 309.1,315.7"/>
<polygon fill="#ffff00" points="315.1,294 316.2,294 316.6,295.9 317.2,296.2 317.2,303.7 316.2,303.7 316,301.1 315.4,300.7"/>
<polygon fill="#ffff00" points="319.2,294 322,294 322,343 320.3,343 319.9,321.3 319.2,320.6"/>
<polygon fill="#00f0ff" points="321.1,294 322,294 322,300 321.1,300"/>
<polygon fill="#ffff00" points="285.1,341.2 286.2,340.1 287.7,340.1 288.8,341.6 288.8,343 285.1,343"/>
<polygon fill="#ffff00" points="262.2,338.2 263,338.2 263.9,339.3 263.9,343 261.9,343 261.9,339.7"/>
<polygon fill="#ffff00" points="309.1,335.2 310,335.2 310,343 309.1,343"/>
<polygon fill="#ffff00" points="301.2,340.1 302,340.1 302,343 301.2,343"/>
<polygon fill="#ffff00" points="318.1,340.1 319.2,340.5 319.2,343 318.1,343"/>
</g>
<g shape-rendering="crispEdges" clip-path="url(#c20)">
<rect x="322" y="294" width="65" height="49" fill="#00f0ff"/>
<polygon fill="#ffff00" points="325,294 325.9,294 325.9,300 325,300"/>
<polygon fill="#ffff00" points="324.1,301.9 325,301.9 325,321.7 324.1,322.1 324.1,339 325.7,340.1 326.1,343 322,343 322,340.8 322.9,340.1 322.9,322.1 323.9,321.3"/>
<polygon fill="#ffff00" points="328,294 329.9,294 330.1,340.5 331,341.6 331.7,343 326.9,343 327.1,318 328,317.6"/>
<polygon fill="#ffff00" points="333.8,294 335.1,294 335.1,295.9 333.8,295.9"/>
<polygon fill="#ffff00" points="334,301.1 335.1,301.1 335.1,311.6 334,312 334,334.8 333.1,335.2 333.1,342 332.1,342 332.1,311.2 333.1,310.9 333.1,301.9"/>
<polygon fill="#ffff00" points="339.1,301.9 340,301.9 340,321.7 339.1,322.1 338.9,334.8 338.1,335.2 337.9,343 335.1,343 335.1,342 336.1,341.2 336.1,324 337,323.6 337,311.2 338.1,310.9 338.1,304.1"/>
<polygon fill="#ffff00" points="343,294 344.9,294 345.1,300.7 346,300.7 346,294 350.1,294 350.1,297.7 349,298.1 349,303.7 348.1,304.1 347.8,308.6 346.9,309 346.7,311.6 346,312 346,317.6 346.9,318 347.1,343 344,343 344,315.4 344.9,314.6 344.9,311.2 344.1,310.9 344,303 343,302.6"/>
<polygon fill="#ffff00" points="355,294 358,294 358,303.7 357.1,304.1 356.8,317.6 356.1,318 356.1,333 355,333 355,327 354.1,326.6 354.1,295.1"/>
<polygon fill="#ffff00" points="370,294 381.2,294 381.2,299.6 380.3,300.4 380.1,303.7 379.1,304.1 378.9,308.6 378,309 377.8,312.7 377.1,313.5 376.7,315 375,315 374.8,309.4 373.7,308.6 373.1,308.2 373.1,311.6 372,312 371.8,319.8 371.1,320.2 371.1,331.8 370,332.2 369.8,334.8 369.1,335.2 368.8,342 366.2,342 366.1,343 356.8,343 357.1,339 358,338.6 358,329.2 359.1,328.8 359.1,321.3 360.1,321 360.2,324.7 361,324.7 362.1,323.6 362.1,318 363.1,317.6 363.1,315.4 364,314.6 364.1,311.2 365.1,310.5 365.3,309 366.2,307.1 367.3,306 368.1,306.7 369.1,306.4 369.1,296.2 370,295.5"/>
<polygon fill="#ffff00" points="384.6,294 386.1,294 386.1,315 385.3,317.2 384.9,319.5 383.8,319.8 382.3,319.8 382.2,301.1 383.3,300.7 383.4,298.9 384.6,298.5"/>
<polygon fill="#ffff00" points="386.3,317.2 387,317.2 387,343 386.3,343"/>
<polygon fill="#ffff00" points="376.1,335.1 377.1,335.1 377.2,336.7 378,337.1 378.2,341.6 379.1,342 379.1,343 376.1,343"/>
<polygon fill="#ffff00" points="371.1,340.1 372.9,340.3 372.9,343 371.1,343"/>
</g>
<g shape-rendering="crispEdges" clip-path="url(#c21)">
<rect x="387" y="294" width="65" height="49" fill="#00f0ff"/>
<polygon fill="#ffff00" points="387,294 388.1,294 388.1,297 387,297"/>
<polygon fill="#ffff00" points="387,318 387.9,318.4 388.1,319.8 389.6,321 390,325.8 390.9,326.2 391.1,334.1 391.9,334.5 391.9,343 387,343"/>
<polygon fill="#ffff00" points="393.1,304.1 394.1,304.1 394.9,305.2 395.1,313.1 396,313.5 396,319.8 395.1,319.8 394.1,318.7 394.1,309.4 393.1,309"/>
<polygon fill="#ffff00" points="399,294 402,294 402,300.7 402.9,301.1 403.1,310.9 403.9,311.2 404.1,318.7 405,319.1 405,303 405.9,303 405.9,321 406.6,320.6 407.6,319.8 408,313.1 409.1,312.7 409.1,309.4 409.9,309 410.1,317.6 411,318 411.1,311.2 412.1,310.9 412.1,301.9 413,301.5 413,294 418.8,294 419.1,301.9 420,303 420.1,311.6 421.1,312.4 421.1,324.7 420.1,325.1 420,328.1 419.2,328.1 419.1,321.3 418.1,321 418.1,302.2 417.1,301.9 417,306.7 416.1,307.1 415.8,310.9 414.9,311.2 414.7,314.6 414,315 413.8,319.8 413,320.2 413,330.7 414,331.1 414,340.8 413,341.2 412.8,343 409.9,343 409.1,340.5 409,337.1 408,336.7 407.8,334.8 406.9,333 406.1,333.3 405.9,335.1 405,335.1 404.1,333.7 403.9,326.6 403.1,325.8 402.9,322.8 402,322.5 401.8,319.1 401.1,318.7 400.9,311.2 400.1,310.9 399.9,303 399,302.6"/>
<polygon fill="#00f0ff" points="405,321.1 405.9,321.1 405.9,325.8 405,325.8"/>
<polygon fill="#ffff00" points="401.1,329.1 402,329.1 402.1,336 402.9,336.3 402.9,342 402,342 401.8,337.1 401.1,336.7"/>
<polygon fill="#ffff00" points="422.1,294 426,294 426.1,305.6 427.1,306 427.2,309.7 428.1,310.1 428.2,318.7 429,319.1 429,334.1 428.1,334.1 427.1,332.6 426.1,331.5 426,328.1 425.1,327.7 424.8,311.6 424.1,311.2 423.9,305.2 423,304.9 422.8,297 422.1,296.6"/>
<polygon fill="#ffff00" points="431.2,294 433.1,294 434.1,295.1 434.2,306.7 435.3,307.9 436.1,307.5 436.1,294 442.8,294 442.8,300.7 442.1,301.1 441.1,299.6 440.9,297.4 440,297 439.1,297.4 438.9,303.7 438.1,304.1 438.1,315.7 436.1,316.1 435,316.5 435,324 434.1,324.3 434.1,331.1 433.1,331.1 432,330 432,313.1 431.2,312.7"/>
<polygon fill="#ffff00" points="436.1,321.7 437,322.1 437.2,323.6 438.9,324 439.1,325.8 440,325.8 440,322.1 441.1,322.1 441.1,343 437.9,343 437.9,341.2 437,340.8 437,324 436.1,323.6"/>
<polygon fill="#ffff00" points="434.2,338.1 435.1,338.1 435.9,339.7 436.1,343 434.2,343"/>
<polygon fill="#ffff00" points="442.1,301.1 443.2,301.5 443.2,322.8 442.2,322.8"/>
<polygon fill="#ffff00" points="446.2,294 452,294 452,329.2 451.1,330.7 450.5,329.2 450.3,302.2 449.3,301.9 449.2,312.7 448.4,313.1 448.3,325.8 447.3,326.2 446.9,333 446.9,343 444.3,343 444.3,333.3 445.3,333 445.3,326.2 446.2,325.8"/>
<polygon fill="#ffff00" points="451.1,333 452,333 452,343 451.1,343 450.7,337.5"/>
<polygon fill="#ffff00" points="423.1,334.1 424.1,334.5 424.2,336 425.1,336.3 425.1,343 423.1,343"/>
</g>
<g shape-rendering="crispEdges" clip-path="url(#c22)">
<rect x="452" y="294" width="65" height="49" fill="#00f0ff"/>
<polygon fill="#ffff00" points="452,294 458,294 458,295.1 457.8,297.7 456.9,298.1 456.1,299.2 455.9,305.6 455,306 454.8,309.7 453.9,310.1 453.6,312.7 452.9,313.1 452.7,318 452,318"/>
<polygon fill="#ffff00" points="459.1,294 467,294 467,295.9 466.2,296.2 466.1,319.8 465.1,320.2 465.1,333.3 463.1,333.7 462.9,329.2 462.1,328.8 461.9,327 461,327 460.8,330.7 460.1,331.1 459.9,343 455,343 454.8,342 453.9,342 453.6,343 452,343 452,330 452.9,330 452.9,333.7 453.6,333.7 453.9,327 454.8,327 455,324 455.7,324 455.9,321 456.9,320.6 457.1,317.2 458,316.1 459.1,315.7 459.1,307.9 460.1,308.2 460.1,313.9 461,314.2 461,316.9 462.1,316.9 462.1,307.1 461,307.1 460.1,306.7 460.1,302.2 459.1,301.5"/>
<polygon fill="#ffff00" points="470,294 473,294 473,303.7 473.9,304.1 473.9,330.7 473,331.1 473,337.5 473.9,337.8 474.1,335.2 474.9,334.1 476,334.1 476,343 472.1,343 471.9,337.1 470.9,336.7 470.7,334.1 470,333.7 469.8,330 469.1,329.6 468.9,317.2 467.9,316.9 467.7,312 467,311.6 467,301.9 467.9,301.5 468.1,295.9 468.9,295.9 469.1,300 470,299.6"/>
<polygon fill="#ffff00" points="486.1,298.1 487.1,298.1 487.1,312 486.1,312"/>
<polygon fill="#ffff00" points="492.1,303 493.1,303 494,304.1 494.1,309.7 495.1,310.1 495.3,315 497,316.1 497.1,318.7 497.9,319.1 498.1,324.7 498.8,325.1 499.1,336.7 501.1,337.5 503.7,337.8 505,339 505.2,343 493.1,343 493.1,334.8 492.1,334.5 492.1,321.3 491.1,321 491,309 492.1,308.6"/>
<polygon fill="#ffff00" points="497,294 500,294 500,300.7 499.1,301.1 498.8,303.7 498.1,303.7 497.9,301.9 497,301.5"/>
<polygon fill="#ffff00" points="504.1,294 510.1,294 510.3,301.5 511.2,301.9 511.2,311.6 511.9,312 512.2,316.5 513.1,317.2 513.3,319.8 514.2,320.2 514.3,322.8 516.1,323.2 517,324.7 517,343 511.2,343 510.3,342 510.1,340.1 509.1,340.1 508.9,343 507.1,343 507.1,338.2 506.1,337.8 505.9,333.3 505,333 504.8,330 504.1,329.6"/>
<polygon fill="#ffff00" points="485,328.1 486.1,328.1 486.1,337.8 487.1,338.2 487.1,343 484.1,343 484.1,330.3 485,330"/>
<polygon fill="#0014ff" points="513.3,294 516.1,294 516.4,296.2 517,297 517,312.7 516.1,313.1 516.1,315.7 515.3,315.7 515.1,312 514.2,311.6 514,307.9 513.3,307.5 513.1,301.1 512.2,300.7 512.2,296.2 513.1,295.9"/>
</g>
<g shape-rendering="crispEdges" clip-path="url(#c23)">
<rect x="517" y="294" width="65" height="49" fill="#00f0ff"/>
<polygon fill="#ffff00" points="518.1,294 524.9,294 525.1,319.1 524.1,319.5 523,319.1 521.9,320.6 520,321 519.8,314.2 518.9,313.9 518.6,298.9 517.9,298.5 517.9,294"/>
<polygon fill="#ffff00" points="531.2,294 565,294 565,295.5 564.1,296.2 564.1,307.9 565,308.2 565.1,315.7 566.1,316.1 566.1,319.5 565,319.8 565,324 564.1,324.3 564.1,339 563.5,340.5 562.7,342 562,343 524.9,343 524.9,333 526,332.2 526.1,329.6 527.1,329.2 527.1,327 528.1,326.6 528.2,324 529,323.6 529.1,313.1 530.1,312.7 530.1,303.7 531.1,303.4"/>
<polygon fill="#00f0ff" points="535,294 538,294 538,303.7 538.7,304.1 538.7,307.5 538,308.2 538,313.1 536.9,313.5 535,312.7 534.1,312.4 534.1,301.9 535,301.1"/>
<polygon fill="#00f0ff" points="557.1,294 560.1,294 560.1,300.4 559.3,300.7 559.1,311.6 558.2,312 558.1,313.9 557.2,313.9 557.1,301.5 556,300.7 555.2,300.7 555.2,295.1 556,294.7"/>
<polygon fill="#00f0ff" points="559,317.2 560.1,317.6 560.3,325.5 561.2,326.2 561.2,336 562.9,336.7 563.1,340.5 563.8,340.8 564.1,343 562,343 561.2,339 560.1,338.6 559.7,343 558.2,343 558.1,327.7 559,327"/>
<polygon fill="#00f0ff" points="535,328.1 535.9,328.1 536.1,333 536.9,333.3 536.9,338.2 536.1,338.2 535.7,333.7 535,333.3"/>
<polygon fill="#00f0ff" points="533.1,320.2 534.1,320.2 534.1,327 533.1,327"/>
<polygon fill="#00f0ff" points="533.1,332.2 534.1,332.2 534.1,339 533.1,339"/>
<polygon fill="#00f0ff" points="541.7,326.2 542.8,326.6 542.8,329.2 541.7,329.2"/>
<polygon fill="#00f0ff" points="541,330.7 542.8,330.7 542.8,339 541,339"/>
<polygon fill="#00f0ff" points="546.2,308.2 549.2,308.2 549.2,313.5 548.1,313.9 547.7,319.5 546.6,318.7 546.2,313.5"/>
<polygon fill="#00f0ff" points="551.1,322.5 552.2,322.8 552.2,325.5 551.1,325.5"/>
<polygon fill="#ffff00" points="582,294 582,343 569.1,343 569.1,337.1 570,336.7 570.2,333 570.9,332.6 571.1,328.8 572.1,328.5 572.2,326.2 573.2,325.8 573.9,324.3 575.1,324 575.3,315.4 576.2,315 576.2,301.5 576.9,300.7 576.9,295.9 576.2,295.5 576.2,294"/>
<polygon fill="#00f0ff" points="581.1,294 582,294 582,300 581.1,300"/>
<polygon fill="#ffff00" points="526.7,294 528.1,294 528.1,295.9 526.7,295.9"/>
<polygon fill="#ffff00" points="517,339 517.9,339 517.9,343 517,343"/>
<polygon fill="#ffd200" points="520,294 523,294 523,307.9 521.9,307.9 521.6,302.2 520,301.5"/>
<polygon fill="#ffd200" points="530.1,303.7 532,300 533.1,300.4 533.1,320.2 532,320.6 531.8,337.5 531.1,339 530.1,336 530.1,318"/>
<polygon fill="#ffd200" points="538,304.5 541,296.2 542.8,294 543.2,324 541.7,319.5 540.2,312.7 539.1,312 538,310.5"/>
<polygon fill="#ffd200" points="560.1,294 563.1,294 563.8,296.2 563.8,307.9 563.1,308.2 562.9,315 562,315 561.8,304.1 561.1,303.7 560.1,300.4"/>
<polygon fill="#ffd200" points="556,324 558.1,324 558.2,339 557.8,343 556,343"/>
<polygon fill="#ffd200" points="552.2,294 555.2,294 555.2,301.5 556,302.2 556,313.9 555.2,315 554.8,320.2 553.7,319.5 553.3,314.2 552.2,313.5"/>
<polygon fill="#ffd200" points="545.8,324 548.1,325.5 548.5,331.5 548.8,339 547,340.5 546.6,343 543.2,343 542.8,339 543.2,324"/>
<polygon fill="#ff6400" points="543.2,294 546.2,294 546.2,324 547,329.2 547,339 546.2,343 544,343 543.6,336 542.8,325.5 542.5,321 542.8,301.5"/>
<polygon fill="#ff6400" points="552.6,294 554.8,294 554.8,308.2 554.1,312.7 553,312.7 552.6,309"/>
<polygon fill="#ff6400" points="549.2,294 551.1,294 551.1,298.5 550,301.5 549.2,307.5"/>
<polygon fill="#ff0a0a" points="543.6,300.4 545.8,300 546.1,309 545.8,322.5 544,323.6 542.8,322.5 543.2,312.7"/>
<polygon fill="#ff0a0a" points="544.7,340.5 546.2,340.5 546.2,343 544.7,343"/>
<polygon fill="#0014ff" points="547,294 549.2,294 549.4,298.5 549.1,305.2 548.1,307.5 547,309 546.2,309.7 546.1,298.5"/>
<polygon fill="#0014ff" points="542.1,297 543.1,297 543.1,304.5 542.5,309 542.1,316.5 541.4,319.5 541,324 541,327.7 540.2,331.5 540.1,339 539.5,343 538,343 538.1,329.2 538.4,323.2 539.1,321 540.2,316.5 541,309 541.4,301.5"/>
<polygon fill="#0000a0" points="539.5,324 540.8,324 540.6,331.5 539.5,339 538.7,342 538.4,333"/>
<polygon fill="#0014ff" points="551.1,298.1 551.8,298.1 551.8,312.7 551.1,313.1 551.1,324 550.3,324 550,321 549.2,319.5 549.1,309.7 550,309 550.3,301.5"/>
<polygon fill="#0014ff" points="552.2,325.8 553.3,326.2 554.1,327.7 554.3,334.5 554.8,336 554.8,343 551.1,343 551.1,333 551.8,331.5"/>
<polygon fill="#0000a0" points="551.6,336 554.5,336 554.5,343 551.6,343"/>
<polygon fill="#0014ff" points="573.2,294 576.2,294 576.2,301.5 575.3,301.9 575.1,306 574.1,306.4 573.9,310.9 573.2,311.2 572.8,313.9 572.1,313.9 570.9,312.7 570,312.4 570,308.2 570.9,307.9 571.1,303 572.1,302.2 572.2,296.6"/>
<polygon fill="#0014ff" points="521.1,333 521.9,333 522.2,335.2 523,336 523.1,340.5 523.9,341.2 524.1,343 520,343 520,336"/>
<polygon fill="#0014ff" points="560.1,339 561.1,339 561.2,343 560.1,343"/>
<polygon fill="#0014ff" points="530.1,294 530.9,294 530.9,295.9 530.1,295.9"/>
<polygon fill="#7800b4" points="541.4,307.5 542.1,307.5 542.1,319.5 541.4,319.5"/>
<polygon fill="#7800b4" points="552.1,331.5 552.8,331.5 552.8,336.7 552.1,336.7"/>
</g>
<g shape-rendering="crispEdges" clip-path="url(#c24)">
<rect x="582" y="294" width="65" height="49" fill="#00f0ff"/>
<polygon fill="#ffff00" points="587.1,294 588.9,294 588.9,297 588,297.4 587.8,298.9 587.1,298.9"/>
<polygon fill="#ffff00" points="582,313.9 582.9,314.2 582.9,328.8 583.9,329.6 584.8,332.2 585,334.8 585.9,334.8 585.9,332.2 586.9,331.8 587.1,330 588,330.3 588.9,332.6 589.1,337.1 590.1,337.5 591,337.1 591,343 582,343"/>
<polygon fill="#ffff00" points="588,315.4 589.9,315.4 589.9,321.7 589.1,322.1 588.9,327 588,327"/>
<polygon fill="#ffff00" points="594.9,300 596.1,300 596.1,303 594.9,303"/>
<polygon fill="#ffff00" points="591,324 591.9,324 591.9,324.9 591,324.9"/>
<polygon fill="#ffff00" points="595.1,307.9 596.1,308.2 596.1,313.9 597,314.2 597.1,334.8 596.1,334.8 595.9,330 595.1,329.6"/>
<polygon fill="#ffff00" points="594,339 595.1,339 595.1,343 594,343"/>
<polygon fill="#ffff00" points="601.1,294 605.1,294 605.1,296.2 604.1,297 603.1,297.4 603,300.4 602.1,300.7 601.9,318 601.1,318.4 600.9,328.5 601.3,330 601.3,343 597,343 597.4,339 598.9,330 600,318 600.1,303 601.1,298.5"/>
<polygon fill="#ffff00" points="605.1,304.1 606,304.1 606,310.9 605.1,310.9"/>
<polygon fill="#ffff00" points="607.1,307.9 608.1,307.9 608.1,310.1 607.1,310.1"/>
<polygon fill="#ffff00" points="610.1,294 612,294 612.1,297.7 612.9,297.7 613.1,301.5 613.8,301.9 614.1,310.1 614.4,313.9 615,313.9 615.1,301.9 616.1,301.1 616.1,294 621,294 621,297.7 622.1,298.1 622.1,295.1 623.1,294.7 623.1,300.4 624,300.7 624.1,329.2 623.1,329.6 623.1,343 615,343 615,330 614.1,330 613.8,333.7 613.1,334.1 612.9,340.1 612,340.8 611.1,340.5 610.8,325.1 610.1,324.7 609.9,343 609,343 609,322.1 607.1,321.7 607.1,319.8 608.1,319.5 608.1,314.2 609,314.2 609,319.8 609.9,319.5 610.1,303"/>
<polygon fill="#00f0ff" points="621,295.1 622.1,295.1 622.1,298.1 621,297.7"/>
<polygon fill="#ffd200" points="610.5,300 612,300 612.1,312.7 611.8,320.2 610.8,320.2 610.3,312.7"/>
<polygon fill="#ffff00" points="605.1,334.1 606,334.1 606,342 605.1,343 604.1,343 604.1,339"/>
<polygon fill="#ffff00" points="626.2,294 632.9,294 632,296.2 631.8,301.5 631.1,301.9 630.9,310.5 630,311.2 629.8,319.5 629.1,319.8 628.8,333.7 627.9,336 626.8,339 625.8,338.2 624.9,337.5 624.9,333 625.6,332.6 625.8,328.8 626.6,328.5 626.8,324.3 627.7,324 627.9,319.8 628.5,316.5 628.8,307.5 628.1,301.5 627.9,297 627,296.2"/>
<polygon fill="#ffff00" points="632,331.1 632.9,331.5 634.1,333 635,336 635.9,337.8 637.1,339 638.2,343 631.1,343 631.1,333"/>
<polygon fill="#ffff00" points="635,294 647,294 647,323.6 644.2,324 644,330 643.1,330.7 642.8,334.1 641.9,334.8 641.2,336.7 639.3,336.3 639.1,343 638.2,343 637.8,339 637.1,338.2 636.1,337.8 635.9,323.2 635,322.5 634.8,318.7 634.1,318 633.8,301.5 634.8,300.7"/>
<polygon fill="#ffff00" points="644.2,334.8 647,334.8 647,343 643.1,343 643.3,337.5"/>
<polygon fill="#0014ff" points="599.1,295.9 600.1,295.9 600.1,306.7 599.1,306.7"/>
<polygon fill="#0014ff" points="585.9,315 586.9,315 587.1,327.7 585.9,327.7"/>
<polygon fill="#0014ff" points="583.9,318 584.8,318 584.8,321.7 583.9,321.7"/>
</g>
<g shape-rendering="crispEdges" clip-path="url(#c25)">
<rect x="257" y="343" width="65" height="49" fill="#00f0ff"/>
<polygon fill="#ffff00" points="257,343 260,343 260,344.1 259.1,344.5 258.9,349.4 257.9,349.7 257.7,352 257,352"/>
<polygon fill="#ffff00" points="260.7,343 264.1,343 263.9,347.9 263,348.2 262.8,354.6 261.9,355 260.9,358 260.9,362.9 259.1,362.9 259.1,350.9 260,350.5 260.1,344.5"/>
<polygon fill="#ffff00" points="257,354.2 257.9,354.2 257.9,366.2 258.6,367 258.6,370.3 257.9,370.7 257.9,380.5 257,380.5"/>
<polygon fill="#ffff00" points="285.1,343 288.8,343 289.1,345.2 290,346 290.1,348.2 291.1,349 292.1,351.2 292.8,352.7 293,354.2 294.1,355.4 294.8,356.9 296,358.4 297.1,359.5 297.1,362.9 297.8,363.2 298.1,367 297.1,367 296,365.5 295.2,366.2 294.8,368.8 294.1,369.2 293.9,371.1 293.1,371.5 293,376.3 291.1,377.1 290,376.3 288.8,375.2 287.7,373.7 287,372.6 286.1,371.5 285.8,358.4 285.1,358 284.9,352 284,351.6 284,346.4 284.9,346"/>
<polygon fill="#ffff00" points="294.1,343 297.1,343 297.1,348.6 296.1,348.6 296,346.7 295.1,346.4 294.8,344.9"/>
<polygon fill="#ffff00" points="301.2,343 302.1,343 302.1,350.5 302.9,351.2 302.9,361.7 301.2,361.7 300.8,361 300.1,361.4 299.9,369.2 299,370.3 298.1,372.2 298.1,364 298.2,354.2 299.1,353.5 299.3,348.2 300.1,348.1 300.3,350.9 301.2,350.5"/>
<polygon fill="#ffff00" points="298.1,372.2 298.1,374.5 299,375.2 299.9,376 300.8,376.3 301.1,378.2 302,379 302.9,378.6 303.1,377.1 304.1,376.7 304.1,370 305,369.2 306.1,367.7 306.3,365.5 307,364.7 307.2,361 307.9,360.6 307.9,352 307,351.6 307,347.9 307.9,347.5 308.1,346 309.1,343 311.1,343 310.9,347.5 310.2,347.9 310,356.9 311.1,356.9 311.3,355.4 313,354.2 314.1,354.2 314.1,356.9 313.2,357.2 313,379 312.1,379.7 311.9,381.2 311.1,381.2 310.9,386.5 310,387.2 310,391 307,391 306.8,380.8 306.1,380.5 305,379.7 305,391 295.1,391 295.2,388.3 296.1,388 297.1,386.5 296.1,385.7 296.1,376 297.1,376 297.2,385.7 298.1,386.1"/>
<polygon fill="#00f0ff" points="309.1,364 310,364.4 310.2,367 311.1,367.4 311.1,374.5 310.2,375.2 310,379 309.1,380.5 308.1,380.5 308.1,373 309.1,372.2"/>
<polygon fill="#ffff00" points="315.3,358 316.2,358 316.2,365.1 316.9,365.5 316.9,373 316.2,373.3 316.2,388 315.3,388 315.1,391 313.9,391 314.3,388 314.3,363.2 315.3,362.9"/>
<polygon fill="#ffff00" points="318.1,343 322,343 322,350.9 319.9,351.2 319.9,354.2 319,354.6 319,388 318.3,388 318.1,364.7 318.3,354.2"/>
<polygon fill="#ffff00" points="316.9,358.9 317.8,358.9 317.8,359.9 316.9,359.9"/>
<polygon fill="#ffff00" points="321.1,388.7 322,388.7 322,391 321.1,391"/>
<polygon fill="#ffff00" points="272,375.1 272.9,375.1 272.9,377.8 272,377.8"/>
<polygon fill="#ffff00" points="281,377.1 281.9,377.1 281.9,382 281,382"/>
<polygon fill="#ffff00" points="285.1,383.1 285.8,383.1 285.8,388 286.6,388.3 286.6,391 284,391 284.1,388.7 285.1,388"/>
<polygon fill="#ffff00" points="269.4,385 270.1,385 270.1,391 266,391 267.1,388.7 268.2,386.8"/>
<polygon fill="#ffff00" points="260,388 260.9,388 260.9,391 260,391"/>
</g>
<g shape-rendering="crispEdges" clip-path="url(#c26)">
<rect x="322" y="343" width="65" height="49" fill="#ffff00"/>
<polygon fill="#00f0ff" points="326.1,343 327.1,343 327.1,346 326.1,346"/>
<polygon fill="#00f0ff" points="324.1,352 325,352 325,359.9 324.1,359.9"/>
<polygon fill="#00f0ff" points="329.1,350.1 330.1,350.1 330.1,365.9 329.1,365.9"/>
<polygon fill="#00f0ff" points="332.1,343 335.1,343 335.1,363.2 336.1,364 336.2,367.7 337.1,368.8 337.4,373 338.1,373.7 338.1,391 335.1,391 335.1,376.7 335.9,376 335.9,370 334.9,369.2 334.7,366.2 334,365.5 333.1,364 332.9,356.1 332.1,355.7"/>
<polygon fill="#00f0ff" points="331.1,370.3 333.1,370.3 333.1,382 332.1,382.3 331,383.5"/>
<polygon fill="#00f0ff" points="322,388 323.1,388 323.1,391 322,391"/>
<polygon fill="#00f0ff" points="327.1,386.1 328,386.1 328,391 327.1,391"/>
<polygon fill="#00f0ff" points="329.1,388.3 330.1,388 331,387.2 331,391 329.1,391"/>
<polygon fill="#00f0ff" points="338.1,343 345.2,343 345.2,344.9 346.1,344.9 347.1,344.1 347.1,343 347.8,343 348.1,344.9 347.1,346.7 347.1,358 346.1,359.1 346,367 345.2,367.4 344.1,368.8 344,371.5 343.2,371.8 343,376 342.1,377.1 341.9,385.7 341.1,386.5 341.1,376.7 340.7,371.1 340,370.7 339.8,368.1 339.1,367 338.1,365.5 337.9,347.1 337,346.7 337.1,344.1"/>
<polygon fill="#ffff00" points="340.9,352.9 342.1,352.9 342.1,354.1 340.9,354.1"/>
<polygon fill="#00f0ff" points="349,343 357.2,343 356.3,344.5 356.1,351.2 357.1,352 357.2,355 358.1,354.6 358.3,352.7 359.1,352.7 359.1,346.4 361,346 361,350.9 360.1,351.2 360.1,357.2 360.2,364 359.1,366.2 359.1,376 360.1,377.1 360.2,379 361.1,379.7 361.1,391 360.1,391 359.8,388.3 359.1,388 358.9,391 348.2,391 348.2,383.5 349,382.7 349.1,375.2 350.1,374.5 350.3,370.3 351.1,369.6 352,368.8 352,347.5 351.1,347.1 350.8,348.2 350.1,347.9 349.9,346.7 349,346.4"/>
<polygon fill="#ffff00" points="356.1,373 357.1,373 357.1,376 356.1,376"/>
<polygon fill="#ffff00" points="357.8,383.8 359.1,383.8 359.1,385 357.8,385"/>
<polygon fill="#00f0ff" points="366.2,343 375.9,343 375.9,355.7 375,356.5 375,361.7 374.1,362.1 373.8,364 372.9,364.4 372.8,366.2 372,366.2 371.8,367.7 371.1,367 370,364 369.6,360.2 368.8,358 368.1,355.4 367,354.2 366.2,354.2 365.8,356.5 365.1,356.9 364.1,356.5 364.1,347.5 365.1,346.7"/>
<polygon fill="#00f0ff" points="361.1,369.1 363.1,369.1 363.1,374.1 362.1,374.8 361.1,374.5"/>
<polygon fill="#00f0ff" points="363.1,375.1 364,375.1 364,377.8 363.1,377.8"/>
<polygon fill="#00f0ff" points="367.9,368.8 368.8,369.2 369.1,371.1 370,371.8 370.9,373.7 371.1,376.3 372,376.7 372.9,377.1 372.9,391 371.1,391 370.7,383.5 370,382.7 369.8,379 369.1,378.2 368.8,373.7 367.9,373"/>
<polygon fill="#00f0ff" points="364.1,383.1 365.1,383.1 365.1,389.8 364.1,389.8"/>
<polygon fill="#00f0ff" points="378.9,343 387,343 387,369.2 386.1,368.8 385.7,365.5 384.8,364 384.6,360.2 383.8,359.1 383.6,353.5 382.7,352.7 381.9,350.5 380.8,349.4 380.1,347.5 379.1,346.7"/>
<polygon fill="#00f0ff" points="379.3,370.3 381.2,370.3 382.2,371.5 383.1,375.2 383.3,386.5 384.2,387.2 384.3,391 376.1,391 376.1,379 377.1,378.2 377.3,375.2 378.2,374.5 378.3,373 379.1,372.6"/>
<polygon fill="#00f0ff" points="386.1,388 387,388 387,391 386.1,391"/>
</g>
<g shape-rendering="crispEdges" clip-path="url(#c27)">
<rect x="387" y="343" width="65" height="49" fill="#00f0ff"/>
<polygon fill="#ffff00" points="387,343 392.1,343 393,344.1 393.1,346.7 394.1,347.5 394.3,350.1 395.1,350.5 395.1,355 396,355.7 396,362.9 395.1,363.2 394.1,364 393.9,365.5 393,366.2 392.8,367.7 392.1,367.7 391.9,365.9 391.1,365.1 390.9,362.9 390,362.5 389.8,355 389.1,354.2 388.9,350.5 387.9,349.7 387.7,347.9 387,347.9"/>
<polygon fill="#ffff00" points="387,371.8 387.9,372.2 388.9,373.7 389.8,375.2 390,377.5 390.9,378.2 391.9,379 393,379.3 393.1,381.2 393.9,381.6 394.1,388 394.1,391 387,391"/>
<polygon fill="#ffff00" points="396.1,366.2 397.1,366.2 397.1,370 398.1,370.3 398.1,374.8 397.1,375.2 396.9,376 396.1,376"/>
<polygon fill="#ffff00" points="401.1,372.1 402,372.1 402.1,379.7 402.9,380.1 402.9,385 402,385 401.8,382 401.1,381.2"/>
<polygon fill="#ffff00" points="403.1,359.1 404.1,359.1 404.1,364 405,364.4 405,386.8 404.1,387.2 404.1,380.5 403.1,380.1"/>
<polygon fill="#ffff00" points="407.1,355 408,355 408,358.7 409,359.1 409.1,364.7 409.9,365.5 410.1,373 411,374.1 411,378.2 411.9,379 412.1,388 412.8,388.7 412.8,391 404.1,391 404.1,387.2 405,386.8 405.1,385 406.1,384.6 406.1,362.1 407.1,361.7"/>
<polygon fill="#ffff00" points="398.2,384.1 399.1,384.1 399.4,385.7 400.1,386.1 400.1,391 398.2,391"/>
<polygon fill="#ffff00" points="410.1,343 413.1,343 413.1,346 412.1,346.4 411.9,347.9 410.1,347.9"/>
<polygon fill="#ffff00" points="411,361 412.1,361.4 412.1,362.9 413.1,363.2 413.1,370.7 412.1,370.7 411.9,363.2 411,362.9"/>
<polygon fill="#ffff00" points="419.1,358 420.1,358 420.1,364 419.1,364"/>
<polygon fill="#ffff00" points="423,343 425.1,343 425.1,353.9 424.1,353.9 423.9,352 423,351.6"/>
<polygon fill="#ffff00" points="418.1,377.1 419.1,377.1 419.2,379 420.1,379.7 420.1,383.1 421.1,383.8 421.1,385.7 423,386.1 423.1,378.2 424.1,377.5 424.1,375.2 426,375.1 426.1,377.1 427.1,377.5 427.1,388 426.1,388.3 426,391 417,391 417.1,383.1 418.1,382.7"/>
<polygon fill="#00f0ff" points="418.1,387.2 419.1,387.2 419.1,391 418.1,391"/>
<polygon fill="#ffff00" points="429.1,366.1 430.1,366.1 430.1,380.8 429.1,380.8"/>
<polygon fill="#ffff00" points="434.1,343 436.1,343 436.1,346 437,346.4 437,355 437.9,355.7 439.1,355 439.1,349 438.1,348.6 437.9,343 441.1,343 441.1,375.2 440.2,375.6 440,388 440.9,388.7 441.1,391 439.4,391 439.1,388 438.1,387.2 437.9,365.1 437,364.7 436.8,362.1 436.1,362.1 436.1,376.3 435,376.7 434.1,376 434.1,360.2 433.1,359.9 433.1,354.2 434.1,353.9"/>
<polygon fill="#ffff00" points="435,382 436.1,382 436.1,386.1 435,386.1"/>
<polygon fill="#ffff00" points="434.1,387.2 435,387.2 435,391 433.1,391 433.8,389.8"/>
<polygon fill="#ffff00" points="441.1,380.1 442.1,380.1 442.1,383.8 441.1,383.8"/>
<polygon fill="#ffff00" points="444.1,343 448.1,343 448.3,352.7 449,353.1 449.2,346.4 449.9,346 450.1,343 452,343 452,353.1 450.1,353.5 449.9,366.2 451.1,367 451.1,388 452,388.7 452,391 448.1,391 448.1,388 447.2,387.2 446.9,375.2 446.2,374.8 445.3,374.1 445.1,382 444.3,382.3 444.1,388 445.1,388.3 445.3,391 443.2,391 443.2,388.7 444.1,388 444.1,370.3 445.1,370 445.3,346.7 444.1,346.4"/>
</g>
<g shape-rendering="crispEdges" clip-path="url(#c28)">
<rect x="452" y="343" width="65" height="49" fill="#ffff00"/>
<polygon fill="#00f0ff" points="453.1,343 455,343 455,346.7 455.9,347.1 455.9,358 456.9,358.4 456.9,368.8 455.9,368.8 455.7,358.7 454.8,357.6 453.9,355.7 453.6,350.5 452.9,350.1"/>
<polygon fill="#00f0ff" points="452,354.2 452.9,354.2 452.9,358.7 452,358.7"/>
<polygon fill="#00f0ff" points="452,363.2 452.7,363.2 452.7,376.7 452,376.7"/>
<polygon fill="#00f0ff" points="452,379.7 452.9,379.7 452.9,389.5 453.6,389.8 453.6,391 452,391"/>
<polygon fill="#00f0ff" points="460.1,343 465.9,343 465.9,346 465.1,346.4 464.9,350.5 464,350.9 463.8,358.7 463.1,359.1 462.9,361.7 462.1,362.1 461.9,367 461,367.4 460.1,368.1 459.9,370.7 459.1,371.1 458.9,374.5 459.9,374.8 459.9,384.6 459.1,385 458.9,391 455,391 455,379 455.9,378.6 456.1,376 456.9,376 457.1,377.8 458,377.5 458,371.5 458.9,370.3 459.1,368.1 459.9,367 460.1,359.1"/>
<polygon fill="#00f0ff" points="466.1,360.2 467,360.2 467,391 463.1,391 463.2,388 464,386.5 464.9,386.1 465.1,374.5 465.9,374.1 466.1,364.4"/>
<polygon fill="#00f0ff" points="468.1,343 473.9,343 473.9,360.6 474.1,365.5 474.1,391 471.1,391 471.1,376.7 470.2,376 470,346.7 469.1,345.2 469.1,348.2 468.1,348.2"/>
<polygon fill="#ffff00" points="471.1,360.2 472.1,360.2 472.2,364.7 472.1,376 471.1,376.3"/>
<polygon fill="#00f0ff" points="474.9,367 475.8,367.4 476,371.8 476.9,371.8 477.1,370.7 477.8,370.3 478.1,368.5 479,368.1 479,364 478.1,364.4 477.8,365.5 476.7,366.2"/>
<polygon fill="#00f0ff" points="476,343 484.2,343 484.2,350.9 485,350.9 485.1,349 486.1,349.4 486.3,353.1 487.1,353.9 487.2,355 488.1,355 489.1,356.9 489.1,371.8 488.1,372.2 488,374.5 487.1,374.8 486.8,382 485,383.1 485,391 482,391 482,363.2 481.1,362.9 480.1,362.1 479.9,368.1 479,368.1 479,350.1 478.1,350.1 477.8,352 477.1,352 476.9,349.4 476,348.6"/>
<polygon fill="#ffff00" points="485,362.1 486.1,362.1 486.1,368.8 485,368.8"/>
<polygon fill="#00f0ff" points="487.2,343 493.1,343 493.1,347.9 492.1,348.2 491,350.5 490.2,355 489.1,356.9 488.1,355 488,350.5 487.2,350.1"/>
<polygon fill="#00f0ff" points="497,346 497.9,346 498.1,352 499.1,352.4 499.1,355 497.9,355.4 497.7,356.9 497,356.9 496.8,356.1 495.1,355.7 495.1,355 496.1,354.2 496.2,349 497,348.6"/>
<polygon fill="#00f0ff" points="494.1,361 495.1,361 495.1,367.7 494.1,367.7"/>
<polygon fill="#00f0ff" points="489.1,371.8 490.1,372.6 491,374.5 491.1,377.5 492.1,378.2 492.1,391 489.1,391"/>
<polygon fill="#00f0ff" points="505,343 511.2,343 511.2,352 511.9,352.4 512.2,359.9 513.1,360.6 513.3,388 512.2,388 511.9,377.1 511.2,376.7 511,370.7 510.3,370.3 510.1,364.7 509.1,364.4 508.9,371.5 508,371.5 507.8,378.2 507.1,378.2 506.8,375.2 505.9,374.5 505.9,365.5 505,365.1"/>
<polygon fill="#00f0ff" points="503.1,368.1 504.1,368.5 505,373 505.9,374.5 506.8,375.2 507.1,378.2 508,379 507.8,383.8 507.1,384.2 507.1,391 502.2,391 502,388.3 501.1,388 501.1,381.6 501.8,381.2 502,375.2 502.9,374.5"/>
<polygon fill="#00f0ff" points="516.1,380.1 517,380.1 517,383.8 516.1,383.8"/>
<polygon fill="#00f0ff" points="516.1,388 517,388 517,391 516.1,391"/>
<polygon fill="#ffd200" points="515.1,343 516.1,343 516.1,349.7 515.1,349.7"/>
<polygon fill="#00f0ff" points="475.1,378.1 476,378.1 476,388 475.1,388"/>
</g>
<g shape-rendering="crispEdges" clip-path="url(#c29)">
<rect x="517" y="343" width="65" height="49" fill="#ffff00"/>
<polygon fill="#00f0ff" points="518.9,343 527.1,343 528.1,350.5 529,355 530.1,358 531.2,359.1 531.2,367 530.1,367.7 529,368.8 529,383.8 524.1,385 523.9,391 520,391 520,387.2 520.9,386.5 520.9,375.2 520,374.5 519.8,368.5 518.9,367.7"/>
<polygon fill="#00f0ff" points="532,343 534.1,343 534.1,355.4 533.1,355.7 533.1,361.7 534.1,362.1 535,367.7 535,373 536.1,373.7 536.1,391 532,391 532,385 529,383.8 529,368.8 530.1,367.7 531.2,367 531.2,359.1 532,358.7"/>
<polygon fill="#ffff00" points="526,356.1 527.1,356.1 527.1,361.7 526,361.7"/>
<polygon fill="#ffff00" points="520.9,358.9 522.1,358.9 522.1,360.1 520.9,360.1"/>
<polygon fill="#ffff00" points="529.1,368.8 530.1,368.8 530.1,379 529.1,379"/>
<polygon fill="#ffff00" points="531.1,371.8 532,371.8 532,385 531.1,385"/>
<polygon fill="#ffff00" points="533.1,367 534.2,367 534.2,391 533.1,391"/>
<polygon fill="#ffff00" points="528.2,379 529.1,379 529.1,380.5 528.2,380.5"/>
<polygon fill="#00f0ff" points="536.1,343 538,343 538,358 537.1,361.7 536.1,361.7"/>
<polygon fill="#00f0ff" points="541.4,358 542.8,357.2 543.1,365.5 543.2,374.5 544,376 544,391 539.1,391 539.1,388 541,387.2 541,367.7"/>
<polygon fill="#00f0ff" points="547,358 548.8,358 548.8,367.7 547.9,368.5 547.7,374.5 547.9,391 547,391 547,374.5 545.8,373 546.1,368.5 547,367.7"/>
<polygon fill="#00f0ff" points="557.1,354.2 558.1,354.2 558.1,359.9 557.1,359.9"/>
<polygon fill="#00f0ff" points="559,343 567.9,343 567.9,349.7 567,350.5 566.8,359.5 566.1,360.2 566.1,380.5 566.4,382 566.4,391 562,391 562,382 561.2,380.5 561.2,365.5 560.1,364.7 559.9,352 559,350.5"/>
<polygon fill="#00f0ff" points="572.1,354.2 573.2,354.2 573.9,356.5 575.1,358 575.4,364 576.6,365.5 576.9,368.5 578.1,370 578.1,379 576.9,379.7 576.2,379 573.9,378.2 572.4,376.7 571.1,374.5 570.9,361.7 572.1,361"/>
<polygon fill="#00f0ff" points="553,374.5 554.1,374.5 555.2,379 555.2,391 553,391"/>
<polygon fill="#00f0ff" points="567.9,388 569.1,388 569.1,391 567.9,391"/>
<polygon fill="#00f0ff" points="570.2,386.5 572.1,386.5 572.1,391 570.2,391"/>
<polygon fill="#00f0ff" points="573.9,385.7 575.1,388 575.1,391 573.9,391"/>
<polygon fill="#00f0ff" points="579.2,390.1 582,390.1 582,391 579.2,391"/>
<polygon fill="#0014ff" points="520,343 521.9,343 521.9,350.5 520.9,350.5 520.7,347.5 520,346.7"/>
<polygon fill="#0014ff" points="523,343 523.9,343 524.1,353.5 524.9,354.2 525.1,361 524.1,361 523.9,355 523,354.2"/>
<polygon fill="#0014ff" points="525.1,370 526,370 526,376.7 525.1,376.7"/>
<polygon fill="#0014ff" points="538,343 539.9,343 539.9,347.5 539.1,348.2 539.1,357.6 538.1,357.6"/>
<polygon fill="#0014ff" points="543.2,355 544.9,355 545.1,362.5 545.8,363.2 545.8,371.5 547,374.5 547.7,378.2 547.9,388 547,391 545.3,391 545.1,388 544.1,386.5 544,376 543.2,373 543.1,358"/>
<polygon fill="#0014ff" points="552.2,343 555.1,343 555.1,351.2 554.1,352 554.1,373 553.1,373.7 553,364 552.2,363.2"/>
<polygon fill="#0014ff" points="560.1,350.9 561.2,351.2 562,353.5 562,364.7 561.1,364.7 560.8,354.2 560.1,353.5"/>
<polygon fill="#0014ff" points="564.1,343 565,343 565,376 564.1,376 563.8,358 563.1,357.6 563.1,355 564.1,354.6"/>
<polygon fill="#7800b4" points="545.1,376.7 546.6,377.1 547,383.5 546.2,385 545.3,383.5"/>
<polygon fill="#ffd200" points="541,343 542.8,343 542.8,346 541,346"/>
<polygon fill="#ffd200" points="540.2,355 541.4,355 541.4,360.2 540.2,360.2"/>
<polygon fill="#ffd200" points="535,364.7 537.1,364.7 537.1,369.2 535.7,369.2"/>
<polygon fill="#ffd200" points="537.1,373 539.1,373 539.1,388 537.1,388"/>
<polygon fill="#ffd200" points="548.5,343 550.7,343 551.1,358 551.1,370 549.2,370 548.8,358"/>
<polygon fill="#ffd200" points="554.8,365.5 556,365.5 556,382 554.8,382"/>
<polygon fill="#ffd200" points="558.1,376 559,376 559,379.7 558.1,379.7"/>
<polygon fill="#ffd200" points="568.3,356.5 570.2,356.5 570.6,365.5 570.2,374.5 569.1,377.5 568.7,365.5"/>
<polygon fill="#ffd200" points="556.3,343 558.1,343 558.1,348.2 556.3,348.2"/>
<polygon fill="#ffd200" points="517,363.2 517.9,363.2 517.9,365.5 517,365.5"/>
<polygon fill="#ff6400" points="544.9,343 547,343 547,367.7 546.2,369.2 545.8,363.2 545.1,362.5 544.9,350.5"/>
<polygon fill="#ff0a0a" points="545.1,343 546.6,343 546.6,347.5 545.1,347.5"/>
<polygon fill="#ffa000" points="523,369.2 523.9,369.2 523.9,385 523,385"/>
</g>
<g shape-rendering="crispEdges" clip-path="url(#c30)">
<rect x="582" y="343" width="65" height="49" fill="#ffff00"/>
<polygon fill="#00f0ff" points="592.1,343 594,343 594,344.9 593.1,345.2 592.9,346.7 592.1,346.7"/>
<polygon fill="#00f0ff" points="595.1,343 599.1,343 599.1,356.1 598.1,356.5 597.9,358 597,358 597,347.1 596.1,347.1 596.1,352 595.1,352"/>
<polygon fill="#00f0ff" points="584.1,348.1 585,348.1 585,352 584.1,352"/>
<polygon fill="#00f0ff" points="582,363.1 582.9,363.1 582.9,367 582,367"/>
<polygon fill="#00f0ff" points="585,374.1 585.9,374.1 585.9,379.7 585,379.7"/>
<polygon fill="#00f0ff" points="588,379 588.9,379.3 589.9,380.1 589.9,388.7 586.9,389.1 586.9,383.5 587.8,382.7"/>
<polygon fill="#00f0ff" points="584.1,386.1 585,386.5 586.1,388 586.1,391 584.1,391"/>
<polygon fill="#00f0ff" points="602.1,343 604.1,343 604.1,347.5 605.1,346.7 605.1,343 607.8,343 607.8,344.9 609,344.1 609.1,343 610.1,343 610.1,347.1 611.1,347.1 611.1,343 615,343 614.2,344.1 614.1,358.7 615,359.1 615.1,362.9 616.1,363.2 616.3,367.7 617.1,368.1 617.2,371.5 618.1,371.8 618.1,367.4 619.1,367 619.1,360.6 618.1,360.2 618,351.2 619.1,350.9 619.1,355.4 620.1,356.1 620.2,356.9 621.1,356.5 622.1,355.7 622.1,368.8 621.1,369.2 621.1,372.6 620.2,373 620.1,378.6 619.1,379 619.1,391 614.1,391 614.1,366.2 613.1,365.9 612.7,370 612,370.3 611.8,374.5 611.2,375.2 611.2,391 606,391 606,382.7 605.1,381.2 604.1,380.1 604.1,391 597,391 597,384.6 598.1,383.8 598.1,380.1 599.1,380.1 599.1,383.1 602.1,382.7 601.9,370.7 603,370 603,366.2 602.1,365.5"/>
<polygon fill="#ffff00" points="604.1,347.1 605.1,347.1 605.1,352 604.1,352"/>
<polygon fill="#ffff00" points="606,354.2 607.1,350.9 607.8,351.2 608.1,356.1 608.8,356.5 608.8,361 607.8,361.4 607.8,364 608.8,364.7 608.8,374.8 607.8,374.8 607.8,366.2 606.9,365.9 606.7,369.6 606,369.6 606,363.2 605.1,362.9 605.1,362.1 606,361.7"/>
<polygon fill="#ffff00" points="610.1,347.1 611.1,347.1 611.1,369.6 610.1,369.6"/>
<polygon fill="#ffff00" points="600,389.1 600.9,389.1 600.9,391 600,391"/>
<polygon fill="#00f0ff" points="624.1,370 625.8,370 626.1,375.2 627,376 627,391 623.1,391 623.1,375.2 624,374.8"/>
<polygon fill="#00f0ff" points="623.1,343 631.1,343 631.1,345.2 630.3,346 631.1,346.7 631.3,348.6 634.1,349 634.3,350.5 635.2,350.5 636.1,349.7 637.1,350.1 637.3,343 638.2,343 638.2,344.9 639.1,344.9 639.3,343 641.2,343 641.2,352 641.9,352.7 642.2,358 643.1,358.7 643.3,362.5 644.2,362.9 644.2,358 647,358 647,376.7 644.2,376.7 644,365.5 643.1,365.1 643.1,379 641.9,379.7 641.9,391 640.1,391 640.1,373 639.1,372.2 638.9,366.2 638.2,365.5 638,359.5 637.1,359.1 636.1,360.2 635.9,362.9 635.2,363.2 635,365.5 634.1,366.2 633.8,370 632.9,371.1 632,373 631.1,374.1 630,374.8 629.1,374.5 628.8,371.5 627.9,370.7 627.7,362.1 627,361.7 626.8,354.2 625.8,354.6 624.9,355.7 624.1,355.4 624,344.5 623.1,344.1"/>
<polygon fill="#ffff00" points="638.9,352 640.1,352 640.1,356.9 639.1,357.2"/>
<polygon fill="#00f0ff" points="636.1,371.5 637.1,371.8 637.1,379 638,379.7 638,382 637.1,382.3 636.9,385 635.9,385.3 635.9,391 632.9,391 632.9,386.1 634.1,385.7 634.3,376 635.2,375.2 635.2,373"/>
</g>
<g shape-rendering="crispEdges" fill="#000">
<rect x="271" y="132" width="1" height="4"/>
<rect x="271" y="388" width="1" height="3"/>
<rect x="286" y="132" width="1" height="4"/>
<rect x="286" y="388" width="1" height="3"/>
<rect x="302" y="132" width="1" height="4"/>
<rect x="302" y="388" width="1" height="3"/>
<rect x="317" y="132" width="1" height="4"/>
<rect x="317" y="388" width="1" height="3"/>
<rect x="331" y="132" width="2" height="9"/>
<rect x="331" y="382" width="2" height="9"/>
<rect x="348" y="132" width="1" height="4"/>
<rect x="348" y="388" width="1" height="3"/>
<rect x="363" y="132" width="1" height="4"/>
<rect x="363" y="388" width="1" height="3"/>
<rect x="378" y="132" width="1" height="4"/>
<rect x="378" y="388" width="1" height="3"/>
<rect x="394" y="132" width="1" height="4"/>
<rect x="394" y="388" width="1" height="3"/>
<rect x="408" y="132" width="2" height="9"/>
<rect x="408" y="382" width="2" height="9"/>
<rect x="424" y="132" width="1" height="4"/>
<rect x="424" y="388" width="1" height="3"/>
<rect x="440" y="132" width="1" height="4"/>
<rect x="440" y="388" width="1" height="3"/>
<rect x="455" y="132" width="1" height="4"/>
<rect x="455" y="388" width="1" height="3"/>
<rect x="470" y="132" width="1" height="4"/>
<rect x="470" y="388" width="1" height="3"/>
<rect x="485" y="132" width="2" height="9"/>
<rect x="485" y="382" width="2" height="9"/>
<rect x="501" y="132" width="1" height="4"/>
<rect x="501" y="388" width="1" height="3"/>
<rect x="516" y="132" width="1" height="4"/>
<rect x="516" y="388" width="1" height="3"/>
<rect x="532" y="132" width="1" height="4"/>
<rect x="532" y="388" width="1" height="3"/>
<rect x="547" y="132" width="1" height="4"/>
<rect x="547" y="388" width="1" height="3"/>
<rect x="561" y="132" width="2" height="9"/>
<rect x="561" y="382" width="2" height="9"/>
<rect x="578" y="132" width="1" height="4"/>
<rect x="578" y="388" width="1" height="3"/>
<rect x="593" y="132" width="1" height="4"/>
<rect x="593" y="388" width="1" height="3"/>
<rect x="608" y="132" width="1" height="4"/>
<rect x="608" y="388" width="1" height="3"/>
<rect x="624" y="132" width="1" height="4"/>
<rect x="624" y="388" width="1" height="3"/>
<rect x="638" y="132" width="2" height="9"/>
<rect x="638" y="382" width="2" height="9"/>
<rect x="257" y="376" width="4" height="1"/>
<rect x="644" y="376" width="3" height="1"/>
<rect x="257" y="358" width="4" height="1"/>
<rect x="644" y="358" width="3" height="1"/>
<rect x="257" y="341" width="4" height="1"/>
<rect x="644" y="341" width="3" height="1"/>
<rect x="257" y="323" width="4" height="1"/>
<rect x="644" y="323" width="3" height="1"/>
<rect x="257" y="305" width="9" height="2"/>
<rect x="638" y="305" width="9" height="2"/>
<rect x="257" y="288" width="4" height="1"/>
<rect x="644" y="288" width="3" height="1"/>
<rect x="257" y="270" width="4" height="1"/>
<rect x="644" y="270" width="3" height="1"/>
<rect x="257" y="253" width="4" height="1"/>
<rect x="644" y="253" width="3" height="1"/>
<rect x="257" y="235" width="4" height="1"/>
<rect x="644" y="235" width="3" height="1"/>
<rect x="257" y="217" width="9" height="2"/>
<rect x="638" y="217" width="9" height="2"/>
<rect x="257" y="200" width="4" height="1"/>
<rect x="644" y="200" width="3" height="1"/>
<rect x="257" y="182" width="4" height="1"/>
<rect x="644" y="182" width="3" height="1"/>
<rect x="257" y="165" width="4" height="1"/>
<rect x="644" y="165" width="3" height="1"/>
<rect x="257" y="147" width="4" height="1"/>
<rect x="644" y="147" width="3" height="1"/>
</g>
<rect x="256" y="131" width="392" height="261" fill="none" stroke="#000" stroke-width="2" shape-rendering="crispEdges"/>
<g shape-rendering="crispEdges">
<rect x="664" y="196" width="13" height="42" fill="#ffe1e1"/>
<rect x="664" y="238" width="13" height="17" fill="#ffb4b4"/>
<rect x="664" y="255" width="13" height="17" fill="#ff6e6e"/>
<rect x="664" y="272" width="13" height="17" fill="#ff0a0a"/>
<rect x="664" y="289" width="13" height="17" fill="#ff6400"/>
<rect x="664" y="306" width="13" height="5" fill="#ffa000"/>
<rect x="664" y="311" width="13" height="6" fill="#ffd200"/>
<rect x="664" y="317" width="13" height="6" fill="#ffff00"/>
<rect x="664" y="323" width="13" height="5" fill="#00f0ff"/>
<rect x="664" y="328" width="13" height="6" fill="#0028ff"/>
<rect x="664" y="334" width="13" height="6" fill="#0000a0"/>
<rect x="664" y="340" width="13" height="16" fill="#7800b4"/>
<rect x="664" y="356" width="13" height="17" fill="#b400b4"/>
<rect x="664" y="373" width="13" height="19" fill="#f000b4"/>
<rect x="664" y="237" width="13" height="2" fill="#000"/>
<rect x="664" y="254" width="13" height="2" fill="#000"/>
<rect x="664" y="271" width="13" height="2" fill="#000"/>
<rect x="664" y="288" width="13" height="2" fill="#000"/>
<rect x="664" y="305" width="13" height="2" fill="#000"/>
<rect x="664" y="310" width="13" height="2" fill="#000"/>
<rect x="664" y="316" width="13" height="2" fill="#000"/>
<rect x="664" y="322" width="13" height="2" fill="#000"/>
<rect x="664" y="327" width="13" height="2" fill="#000"/>
<rect x="664" y="333" width="13" height="2" fill="#000"/>
<rect x="664" y="339" width="13" height="2" fill="#000"/>
<rect x="664" y="355" width="13" height="2" fill="#000"/>
<rect x="664" y="372" width="13" height="2" fill="#000"/>
<rect x="664" y="196" width="13" height="196" fill="none" stroke="#000" stroke-width="2"/>
</g>
<text class="thin" font-size="27.6"><tspan x="336.5" y="85" textLength="104.5" lengthAdjust="spacing">vertical</tspan><tspan> </tspan><tspan x="459.5" y="85" textLength="108" lengthAdjust="spacing">velocity</tspan></text>
<text class="lab" x="164.5" y="109" font-size="17.6" text-anchor="start" textLength="87" lengthAdjust="spacing">(x1E4 m)</text>
<text class="thin" x="656" y="143" font-size="16.2" text-anchor="start" textLength="89.5" lengthAdjust="spacing">t=20400 s</text>
<text class="lab" x="568.5" y="438" font-size="17.6" text-anchor="start" textLength="86" lengthAdjust="spacing">(x1E5 m)</text>
<text class="med" font-size="22.6" y="468.7"><tspan x="373">X</tspan><tspan x="390.5" textLength="17" lengthAdjust="spacingAndGlyphs">-</tspan><tspan x="409.5" textLength="122" lengthAdjust="spacing">coordinate</tspan></text>
<text class="med" font-size="22.6" transform="translate(217,339.5) rotate(-90)"><tspan x="0" y="0">Z</tspan><tspan x="17.5" textLength="17" lengthAdjust="spacingAndGlyphs">-</tspan><tspan x="36" textLength="121" lengthAdjust="spacing">coordinate</tspan></text>
<text class="lab" x="326.6" y="414.5" font-size="16.5" textLength="12.6" lengthAdjust="spacingAndGlyphs">1</text>
<text class="lab" x="403.2" y="414.5" font-size="16.5" textLength="12.6" lengthAdjust="spacingAndGlyphs">2</text>
<text class="lab" x="479.9" y="414.5" font-size="16.5" textLength="12.6" lengthAdjust="spacingAndGlyphs">3</text>
<text class="lab" x="556.6" y="414.5" font-size="16.5" textLength="12.6" lengthAdjust="spacingAndGlyphs">4</text>
<text class="lab" x="633.2" y="414.5" font-size="16.5" textLength="12.6" lengthAdjust="spacingAndGlyphs">5</text>
<text class="lab" x="234" y="223" font-size="16.5" textLength="12.6" lengthAdjust="spacingAndGlyphs">2</text>
<text class="lab" x="234" y="311" font-size="16.5" textLength="12.6" lengthAdjust="spacingAndGlyphs">1</text>
<text class="lab" x="686.5" y="244" font-size="16.5" textLength="20.6" lengthAdjust="spacingAndGlyphs">15</text>
<text class="lab" x="686.5" y="295" font-size="16.5" textLength="11.6" lengthAdjust="spacingAndGlyphs">6</text>
<text class="lab" x="686.5" y="323" font-size="16.5" textLength="11.6" lengthAdjust="spacingAndGlyphs">1</text>
<text class="lab" y="340" font-size="16.5"><tspan x="686" textLength="14.5" lengthAdjust="spacingAndGlyphs">-</tspan><tspan x="698.8" textLength="11.6" lengthAdjust="spacingAndGlyphs">2</tspan></text>
<text class="lab" y="379" font-size="16.5"><tspan x="686" textLength="14.5" lengthAdjust="spacingAndGlyphs">-</tspan><tspan x="698.8" textLength="11.6" lengthAdjust="spacingAndGlyphs">9</tspan></text>
</svg>
</body></html>
